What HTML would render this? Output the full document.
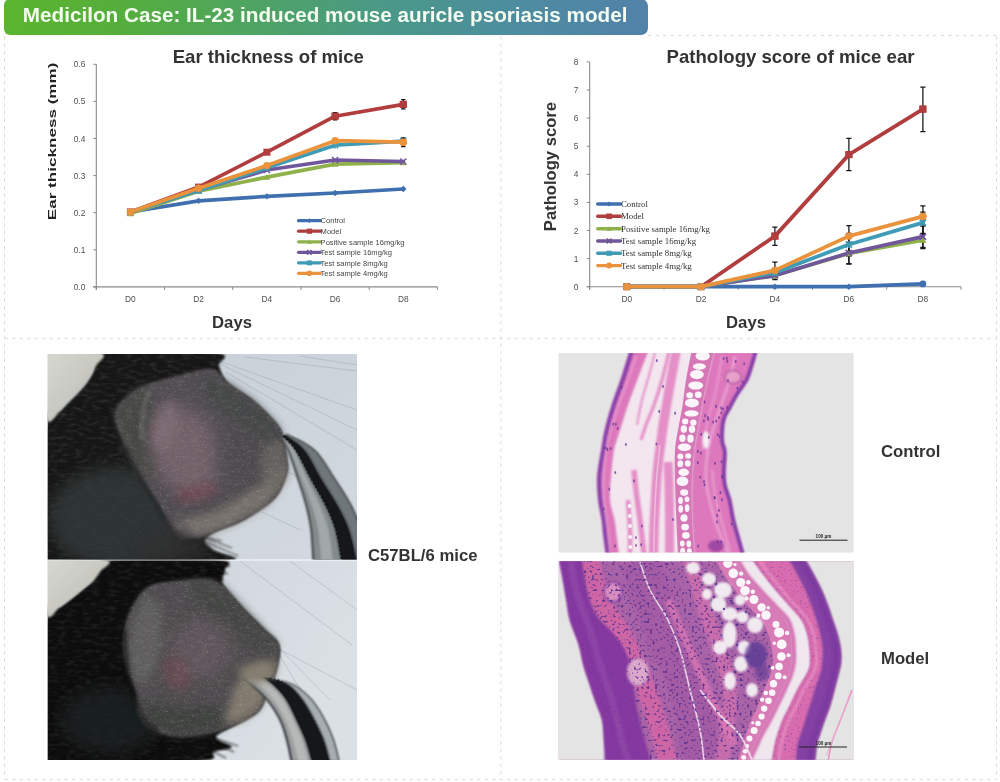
<!DOCTYPE html>
<html lang="en"><head><meta charset="utf-8"><title>Medicilon Case: IL-23 induced mouse auricle psoriasis model</title>
<style>
html,body{margin:0;padding:0;background:#fff;}
body{width:1000px;height:782px;overflow:hidden;position:relative;font-family:"Liberation Sans",Arial,sans-serif;}
svg{position:absolute;left:0;top:0;display:block}
svg text{font-family:"Liberation Sans",Arial,sans-serif}
svg .sf text{font-family:"Liberation Serif","Times New Roman",serif}
.hdr{position:absolute;left:3.5px;top:-1px;width:644.3px;height:35.6px;border-radius:6px 7px 7px 6px;
 background:linear-gradient(90deg,#5bb52e 0%,#55ae3c 18%,#4ea365 40%,#4a9889 60%,#4d8ca0 80%,#5282a9 100%);}
.hdr span{position:absolute;left:19.3px;top:4.4px;font-weight:bold;font-size:20.7px;line-height:24px;color:#f4fbf0;white-space:nowrap;letter-spacing:0}
</style></head><body>
<div class="hdr"><span>Medicilon Case: IL-23 induced mouse auricle psoriasis model</span></div>
<svg width="1000" height="782" viewBox="0 0 1000 782">
<defs>

<clipPath id="cA"><rect x="47.7" y="354" width="309.3" height="205.6"/></clipPath>
<clipPath id="cB"><rect x="47.7" y="560.6" width="309.3" height="199.3"/></clipPath>
<clipPath id="cC"><rect x="558.6" y="353" width="295" height="199.6"/></clipPath>
<clipPath id="cD"><rect x="558.8" y="561.3" width="294.4" height="198.5"/></clipPath>
<filter id="b1" filterUnits="userSpaceOnUse" x="40" y="345" width="830" height="425"><feGaussianBlur stdDeviation="0.8"/></filter>
<filter id="b2" filterUnits="userSpaceOnUse" x="40" y="345" width="830" height="425"><feGaussianBlur stdDeviation="1.6"/></filter>
<filter id="b4" x="-40%" y="-40%" width="180%" height="180%"><feGaussianBlur stdDeviation="4"/></filter>
<filter id="b8" x="-60%" y="-60%" width="220%" height="220%"><feGaussianBlur stdDeviation="8"/></filter>
<filter id="fur" x="0" y="0" width="100%" height="100%" color-interpolation-filters="sRGB"><feTurbulence type="fractalNoise" baseFrequency="0.12 0.3" numOctaves="2" seed="3" result="n"/><feColorMatrix in="n" type="matrix" values="0 0 0 0 0.75  0 0 0 0 0.75  0 0 0 0 0.75  2.4 0 0 0 -1.05"/><feComposite in2="SourceGraphic" operator="in"/></filter>
<filter id="speck" x="0" y="0" width="100%" height="100%" color-interpolation-filters="sRGB"><feTurbulence type="fractalNoise" baseFrequency="0.55" numOctaves="2" seed="7" result="n"/><feColorMatrix in="n" type="matrix" values="0 0 0 0 0.92  0 0 0 0 0.9  0 0 0 0 0.9  3.2 0 0 0 -1.95"/><feComposite in2="SourceGraphic" operator="in"/></filter>
<filter id="cells" x="0" y="0" width="100%" height="100%" color-interpolation-filters="sRGB"><feTurbulence type="fractalNoise" baseFrequency="0.38" numOctaves="1" seed="11" result="n"/><feColorMatrix in="n" type="matrix" values="0 0 0 0 0.36  0 0 0 0 0.2  0 0 0 0 0.56  7 0 0 0 -4.0"/><feComposite in2="SourceGraphic" operator="in"/></filter>
<filter id="cells2" x="0" y="0" width="100%" height="100%" color-interpolation-filters="sRGB"><feTurbulence type="fractalNoise" baseFrequency="0.45" numOctaves="1" seed="23" result="n"/><feColorMatrix in="n" type="matrix" values="0 0 0 0 0.4  0 0 0 0 0.22  0 0 0 0 0.6  6 0 0 0 -3.6"/><feComposite in2="SourceGraphic" operator="in"/></filter>
<linearGradient id="bgA" x1="0" y1="0" x2="1" y2="1"><stop offset="0" stop-color="#c6ced6"/><stop offset="1" stop-color="#d3d9df"/></linearGradient>
<linearGradient id="bgB" x1="0" y1="0" x2="1" y2="0.4"><stop offset="0" stop-color="#c8d0d8"/><stop offset="1" stop-color="#dbe0e5"/></linearGradient>
<linearGradient id="wobj" x1="0" y1="0" x2="1" y2="1"><stop offset="0" stop-color="#dadad4"/><stop offset="0.55" stop-color="#c8c8c1"/><stop offset="1" stop-color="#7c7c78"/></linearGradient>
<radialGradient id="earA" cx="0.42" cy="0.55" r="0.6"><stop offset="0" stop-color="#9a808a"/><stop offset="0.5" stop-color="#8b7a80"/><stop offset="1" stop-color="#6c6c6e"/></radialGradient>
<radialGradient id="earB" cx="0.45" cy="0.6" r="0.65"><stop offset="0" stop-color="#8e7880"/><stop offset="0.5" stop-color="#7c7476"/><stop offset="1" stop-color="#626264"/></radialGradient>
<linearGradient id="furA" x1="0" y1="0" x2="1" y2="0"><stop offset="0" stop-color="#0f1010"/><stop offset="0.45" stop-color="#1b1c1c"/><stop offset="1" stop-color="#2c2d2d"/></linearGradient>

</defs>
<g fill="none" stroke="#dcdcdc" stroke-width="1" stroke-dasharray="3.5 4">
<path d="M4.5 36V779.5M996.5 36V779.5M500.8 36V779"/>
<path d="M648 35.5H996.5M4.5 338.7H996.5M4.5 779.5H996.5"/>
</g>
<g id="chart1"><path d="M96.3 64.3V289.9M93.3 286.9H437.4" stroke="#8a8a8a" stroke-width="1.1" fill="none"/><path d="M93.3 286.9H96.3M93.3 249.8H96.3M93.3 212.7H96.3M93.3 175.6H96.3M93.3 138.5H96.3M93.3 101.4H96.3M93.3 64.3H96.3M96.3 286.9V289.9M164.5 286.9V289.9M232.7 286.9V289.9M301.0 286.9V289.9M369.2 286.9V289.9M437.4 286.9V289.9" stroke="#8a8a8a" stroke-width="1" fill="none"/><g font-size="8.4" fill="#505050" text-anchor="end"><text x="85.3" y="289.9">0.0</text><text x="85.3" y="252.8">0.1</text><text x="85.3" y="215.7">0.2</text><text x="85.3" y="178.6">0.3</text><text x="85.3" y="141.5">0.4</text><text x="85.3" y="104.4">0.5</text><text x="85.3" y="67.3">0.6</text></g><g font-size="8.4" fill="#505050" text-anchor="middle"><text x="130.4" y="302.3">D0</text><text x="198.6" y="302.3">D2</text><text x="266.9" y="302.3">D4</text><text x="335.1" y="302.3">D6</text><text x="403.3" y="302.3">D8</text></g><polyline points="130.4,212.0 198.6,200.8 266.9,196.4 335.1,193.0 403.3,189.0" fill="none" stroke="#3f6fae" stroke-width="3.7" stroke-linejoin="round" stroke-linecap="round"/><path d="M127.2 212.0L130.4 208.8L133.6 212.0L130.4 215.2Z" fill="#3f6fae"/><path d="M195.4 200.8L198.6 197.6L201.8 200.8L198.6 204.0Z" fill="#3f6fae"/><path d="M263.7 196.4L266.9 193.2L270.1 196.4L266.9 199.6Z" fill="#3f6fae"/><path d="M331.9 193.0L335.1 189.8L338.3 193.0L335.1 196.2Z" fill="#3f6fae"/><path d="M400.1 189.0L403.3 185.8L406.5 189.0L403.3 192.2Z" fill="#3f6fae"/><polyline points="130.4,212.0 198.6,187.1 266.9,152.2 335.1,116.2 403.3,104.4" fill="none" stroke="#b13d3f" stroke-width="3.7" stroke-linejoin="round" stroke-linecap="round"/><rect x="126.9" y="208.5" width="7.0" height="7.0" fill="#b13d3f"/><rect x="195.1" y="183.6" width="7.0" height="7.0" fill="#b13d3f"/><rect x="263.4" y="148.7" width="7.0" height="7.0" fill="#b13d3f"/><rect x="331.6" y="112.7" width="7.0" height="7.0" fill="#b13d3f"/><rect x="399.8" y="100.9" width="7.0" height="7.0" fill="#b13d3f"/><polyline points="130.4,213.4 198.6,191.2 266.9,177.1 335.1,164.1 403.3,162.6" fill="none" stroke="#8fb14c" stroke-width="3.7" stroke-linejoin="round" stroke-linecap="round"/><path d="M127.2 216.2L130.4 210.2L133.6 216.2Z" fill="#8fb14c"/><path d="M195.4 193.9L198.6 188.0L201.8 193.9Z" fill="#8fb14c"/><path d="M263.7 179.8L266.9 173.9L270.1 179.8Z" fill="#8fb14c"/><path d="M331.9 166.8L335.1 160.9L338.3 166.8Z" fill="#8fb14c"/><path d="M400.1 165.3L403.3 159.4L406.5 165.3Z" fill="#8fb14c"/><polyline points="130.4,212.0 198.6,190.1 266.9,170.0 335.1,160.0 403.3,161.5" fill="none" stroke="#70569a" stroke-width="3.7" stroke-linejoin="round" stroke-linecap="round"/><path d="M127.4 209.0L133.4 215.0M127.4 215.0L133.4 209.0" stroke="#70569a" stroke-width="1.6" fill="none"/><path d="M195.6 187.1L201.6 193.1M195.6 193.1L201.6 187.1" stroke="#70569a" stroke-width="1.6" fill="none"/><path d="M263.9 167.0L269.9 173.0M263.9 173.0L269.9 167.0" stroke="#70569a" stroke-width="1.6" fill="none"/><path d="M332.1 157.0L338.1 163.0M332.1 163.0L338.1 157.0" stroke="#70569a" stroke-width="1.6" fill="none"/><path d="M400.3 158.5L406.3 164.5M400.3 164.5L406.3 158.5" stroke="#70569a" stroke-width="1.6" fill="none"/><polyline points="130.4,212.0 198.6,190.4 266.9,167.8 335.1,145.2 403.3,141.1" fill="none" stroke="#3f9bb6" stroke-width="3.7" stroke-linejoin="round" stroke-linecap="round"/><path d="M127.4 209.0L133.4 215.0M127.4 215.0L133.4 209.0M130.4 208.5L130.4 215.4" stroke="#3f9bb6" stroke-width="1.5" fill="none"/><path d="M195.6 187.4L201.6 193.4M195.6 193.4L201.6 187.4M198.6 187.0L198.6 193.9" stroke="#3f9bb6" stroke-width="1.5" fill="none"/><path d="M263.9 164.8L269.9 170.8M263.9 170.8L269.9 164.8M266.9 164.4L266.9 171.3" stroke="#3f9bb6" stroke-width="1.5" fill="none"/><path d="M332.1 142.2L338.1 148.2M332.1 148.2L338.1 142.2M335.1 141.7L335.1 148.6" stroke="#3f9bb6" stroke-width="1.5" fill="none"/><path d="M400.3 138.1L406.3 144.1M400.3 144.1L406.3 138.1M403.3 137.6L403.3 144.5" stroke="#3f9bb6" stroke-width="1.5" fill="none"/><polyline points="130.4,212.0 198.6,188.2 266.9,165.6 335.1,140.7 403.3,142.2" fill="none" stroke="#ea933c" stroke-width="3.7" stroke-linejoin="round" stroke-linecap="round"/><circle cx="130.4" cy="212.0" r="3.7" fill="#ea933c"/><circle cx="198.6" cy="188.2" r="3.7" fill="#ea933c"/><circle cx="266.9" cy="165.6" r="3.7" fill="#ea933c"/><circle cx="335.1" cy="140.7" r="3.7" fill="#ea933c"/><circle cx="403.3" cy="142.2" r="3.7" fill="#ea933c"/><path d="M335.1 112.5V119.9M332.9 112.5H337.3M332.9 119.9H337.3" stroke="#161616" stroke-width="1.25" fill="none"/><path d="M403.3 99.5V108.8M401.1 99.5H405.5M401.1 108.8H405.5" stroke="#161616" stroke-width="1.25" fill="none"/><path d="M403.3 137.8V146.7M401.1 137.8H405.5M401.1 146.7H405.5" stroke="#161616" stroke-width="1.25" fill="none"/><rect x="331.6" y="112.7" width="7.0" height="7.0" fill="#b13d3f"/><rect x="399.8" y="100.9" width="7.0" height="7.0" fill="#b13d3f"/><circle cx="403.3" cy="142.2" r="3.7" fill="#ea933c"/><g font-size="7.55" fill="#444"><path d="M298.5 220.7H320.3" stroke="#3f6fae" stroke-width="3.2" stroke-linecap="round"/><path d="M307.0 220.7L309.4 218.3L311.8 220.7L309.4 223.1Z" fill="#3f6fae"/><text x="320.6" y="223.4">Control</text><path d="M298.5 231.2H320.3" stroke="#b13d3f" stroke-width="3.2" stroke-linecap="round"/><rect x="306.8" y="228.6" width="5.2" height="5.2" fill="#b13d3f"/><text x="320.6" y="233.9">Model</text><path d="M298.5 241.8H320.3" stroke="#8fb14c" stroke-width="3.2" stroke-linecap="round"/><path d="M307.0 243.8L309.4 239.4L311.8 243.8Z" fill="#8fb14c"/><text x="320.6" y="244.5">Positive sample 16mg/kg</text><path d="M298.5 252.3H320.3" stroke="#70569a" stroke-width="3.2" stroke-linecap="round"/><path d="M307.1 250.1L311.6 254.6M307.1 254.6L311.6 250.1" stroke="#70569a" stroke-width="1.6" fill="none"/><text x="320.6" y="255.0">Test sample 16mg/kg</text><path d="M298.5 262.8H320.3" stroke="#3f9bb6" stroke-width="3.2" stroke-linecap="round"/><path d="M307.1 260.6L311.6 265.1M307.1 265.1L311.6 260.6M309.4 260.2L309.4 265.4" stroke="#3f9bb6" stroke-width="1.5" fill="none"/><text x="320.6" y="265.5">Test sample 8mg/kg</text><path d="M298.5 273.3H320.3" stroke="#ea933c" stroke-width="3.2" stroke-linecap="round"/><circle cx="309.4" cy="273.3" r="2.8" fill="#ea933c"/><text x="320.6" y="276.0">Test sample 4mg/kg</text></g></g>
<g id="chart2"><path d="M589.7 61.9V289.7M586.7 286.7H961.0" stroke="#8a8a8a" stroke-width="1.1" fill="none"/><path d="M586.7 286.7H589.7M586.7 258.6H589.7M586.7 230.5H589.7M586.7 202.4H589.7M586.7 174.3H589.7M586.7 146.2H589.7M586.7 118.1H589.7M586.7 90.0H589.7M586.7 61.9H589.7M589.7 286.7V289.7M664.0 286.7V289.7M738.2 286.7V289.7M812.5 286.7V289.7M886.7 286.7V289.7M961.0 286.7V289.7" stroke="#8a8a8a" stroke-width="1" fill="none"/><g font-size="8.4" fill="#505050" text-anchor="middle"><text x="576" y="289.7">0</text><text x="576" y="261.6">1</text><text x="576" y="233.5">2</text><text x="576" y="205.4">3</text><text x="576" y="177.3">4</text><text x="576" y="149.2">5</text><text x="576" y="121.1">6</text><text x="576" y="93.0">7</text><text x="576" y="64.9">8</text><text x="626.8" y="302.3">D0</text><text x="701.0" y="302.3">D2</text><text x="774.9" y="302.3">D4</text><text x="848.9" y="302.3">D6</text><text x="922.9" y="302.3">D8</text></g><polyline points="626.8,286.7 701.0,286.7 774.9,286.7 848.9,286.7 922.9,283.9" fill="none" stroke="#3f6fae" stroke-width="3.8" stroke-linejoin="round" stroke-linecap="round"/><path d="M623.6 286.7L626.8 283.5L630.0 286.7L626.8 289.9Z" fill="#3f6fae"/><path d="M697.8 286.7L701.0 283.5L704.2 286.7L701.0 289.9Z" fill="#3f6fae"/><path d="M771.7 286.7L774.9 283.5L778.1 286.7L774.9 289.9Z" fill="#3f6fae"/><path d="M845.7 286.7L848.9 283.5L852.1 286.7L848.9 289.9Z" fill="#3f6fae"/><path d="M919.7 283.9L922.9 280.7L926.1 283.9L922.9 287.1Z" fill="#3f6fae"/><polyline points="626.8,286.7 701.0,286.7 774.9,236.1 848.9,154.6 922.9,109.1" fill="none" stroke="#b13d3f" stroke-width="3.8" stroke-linejoin="round" stroke-linecap="round"/><rect x="623.3" y="283.2" width="7.0" height="7.0" fill="#b13d3f"/><rect x="697.5" y="283.2" width="7.0" height="7.0" fill="#b13d3f"/><rect x="771.4" y="232.6" width="7.0" height="7.0" fill="#b13d3f"/><rect x="845.4" y="151.1" width="7.0" height="7.0" fill="#b13d3f"/><rect x="919.4" y="105.6" width="7.0" height="7.0" fill="#b13d3f"/><polyline points="626.8,286.7 701.0,286.7 774.9,275.5 848.9,253.5 922.9,240.1" fill="none" stroke="#8fb14c" stroke-width="3.8" stroke-linejoin="round" stroke-linecap="round"/><path d="M623.6 289.4L626.8 283.5L630.0 289.4Z" fill="#8fb14c"/><path d="M697.8 289.4L701.0 283.5L704.2 289.4Z" fill="#8fb14c"/><path d="M771.7 278.2L774.9 272.3L778.1 278.2Z" fill="#8fb14c"/><path d="M845.7 256.3L848.9 250.3L852.1 256.3Z" fill="#8fb14c"/><path d="M919.7 242.8L922.9 236.9L926.1 242.8Z" fill="#8fb14c"/><polyline points="626.8,286.7 701.0,286.7 774.9,275.5 848.9,253.0 922.9,236.7" fill="none" stroke="#70569a" stroke-width="3.8" stroke-linejoin="round" stroke-linecap="round"/><path d="M623.8 283.7L629.8 289.7M623.8 289.7L629.8 283.7" stroke="#70569a" stroke-width="1.6" fill="none"/><path d="M698.0 283.7L704.0 289.7M698.0 289.7L704.0 283.7" stroke="#70569a" stroke-width="1.6" fill="none"/><path d="M771.9 272.5L777.9 278.5M771.9 278.5L777.9 272.5" stroke="#70569a" stroke-width="1.6" fill="none"/><path d="M845.9 250.0L851.9 256.0M845.9 256.0L851.9 250.0" stroke="#70569a" stroke-width="1.6" fill="none"/><path d="M919.9 233.7L925.9 239.7M919.9 239.7L925.9 233.7" stroke="#70569a" stroke-width="1.6" fill="none"/><polyline points="626.8,286.7 701.0,286.7 774.9,272.6 848.9,244.5 922.9,222.6" fill="none" stroke="#3f9bb6" stroke-width="3.8" stroke-linejoin="round" stroke-linecap="round"/><path d="M623.8 283.7L629.8 289.7M623.8 289.7L629.8 283.7M626.8 283.2L626.8 290.1" stroke="#3f9bb6" stroke-width="1.5" fill="none"/><path d="M698.0 283.7L704.0 289.7M698.0 289.7L704.0 283.7M701.0 283.2L701.0 290.1" stroke="#3f9bb6" stroke-width="1.5" fill="none"/><path d="M771.9 269.6L777.9 275.6M771.9 275.6L777.9 269.6M774.9 269.2L774.9 276.1" stroke="#3f9bb6" stroke-width="1.5" fill="none"/><path d="M845.9 241.5L851.9 247.5M845.9 247.5L851.9 241.5M848.9 241.1L848.9 248.0" stroke="#3f9bb6" stroke-width="1.5" fill="none"/><path d="M919.9 219.6L925.9 225.6M919.9 225.6L925.9 219.6M922.9 219.2L922.9 226.1" stroke="#3f9bb6" stroke-width="1.5" fill="none"/><polyline points="626.8,286.7 701.0,286.7 774.9,270.4 848.9,236.1 922.9,216.4" fill="none" stroke="#ea933c" stroke-width="3.8" stroke-linejoin="round" stroke-linecap="round"/><circle cx="626.8" cy="286.7" r="3.7" fill="#ea933c"/><circle cx="701.0" cy="286.7" r="3.7" fill="#ea933c"/><circle cx="774.9" cy="270.4" r="3.7" fill="#ea933c"/><circle cx="848.9" cy="236.1" r="3.7" fill="#ea933c"/><circle cx="922.9" cy="216.4" r="3.7" fill="#ea933c"/><circle cx="922.9" cy="283.9" r="3.4" fill="#3f6fae"/><path d="M774.9 262.0V279.7M772.3 262.0H777.5M772.3 279.7H777.5" stroke="#161616" stroke-width="1.25" fill="none"/><path d="M848.9 225.7V264.2M846.3 225.7H851.5M846.3 264.2H851.5" stroke="#161616" stroke-width="1.25" fill="none"/><path d="M922.9 205.8V248.5M920.3 205.8H925.5M920.3 248.5H925.5" stroke="#161616" stroke-width="1.25" fill="none"/><path d="M848.9 233.3V255.8M846.3 233.3H851.5M846.3 255.8H851.5" stroke="#161616" stroke-width="1.25" fill="none"/><path d="M922.9 212.0V233.3M920.3 212.0H925.5M920.3 233.3H925.5" stroke="#161616" stroke-width="1.25" fill="none"/><path d="M922.9 226.0V247.4M920.3 226.0H925.5M920.3 247.4H925.5" stroke="#161616" stroke-width="1.25" fill="none"/><path d="M848.9 242.3V263.7M846.3 242.3H851.5M846.3 263.7H851.5" stroke="#161616" stroke-width="1.25" fill="none"/><path d="M774.9 227.1V245.4M772.3 227.1H777.5M772.3 245.4H777.5" stroke="#161616" stroke-width="1.25" fill="none"/><path d="M848.9 138.3V170.6M846.3 138.3H851.5M846.3 170.6H851.5" stroke="#161616" stroke-width="1.25" fill="none"/><path d="M922.9 87.2V131.6M920.3 87.2H925.5M920.3 131.6H925.5" stroke="#161616" stroke-width="1.25" fill="none"/><rect x="771.4" y="232.6" width="7.0" height="7.0" fill="#b13d3f"/><rect x="845.4" y="151.1" width="7.0" height="7.0" fill="#b13d3f"/><rect x="919.4" y="105.6" width="7.0" height="7.0" fill="#b13d3f"/><path d="M771.7 278.2L774.9 272.3L778.1 278.2Z" fill="#8fb14c"/><path d="M845.7 256.3L848.9 250.3L852.1 256.3Z" fill="#8fb14c"/><path d="M919.7 242.8L922.9 236.9L926.1 242.8Z" fill="#8fb14c"/><path d="M771.9 272.5L777.9 278.5M771.9 278.5L777.9 272.5" stroke="#70569a" stroke-width="1.6" fill="none"/><path d="M845.9 250.0L851.9 256.0M845.9 256.0L851.9 250.0" stroke="#70569a" stroke-width="1.6" fill="none"/><path d="M919.9 233.7L925.9 239.7M919.9 239.7L925.9 233.7" stroke="#70569a" stroke-width="1.6" fill="none"/><path d="M771.9 269.6L777.9 275.6M771.9 275.6L777.9 269.6M774.9 269.2L774.9 276.1" stroke="#3f9bb6" stroke-width="1.5" fill="none"/><path d="M845.9 241.5L851.9 247.5M845.9 247.5L851.9 241.5M848.9 241.1L848.9 248.0" stroke="#3f9bb6" stroke-width="1.5" fill="none"/><path d="M919.9 219.6L925.9 225.6M919.9 225.6L925.9 219.6M922.9 219.2L922.9 226.1" stroke="#3f9bb6" stroke-width="1.5" fill="none"/><circle cx="774.9" cy="270.4" r="3.7" fill="#ea933c"/><circle cx="848.9" cy="236.1" r="3.7" fill="#ea933c"/><circle cx="922.9" cy="216.4" r="3.7" fill="#ea933c"/><g font-size="8.8" fill="#333" class="sf"><path d="M597.7 204.0H620.5" stroke="#3f6fae" stroke-width="3.4" stroke-linecap="round"/><path d="M606.5 204.0L609.1 201.4L611.7 204.0L609.1 206.6Z" fill="#3f6fae"/><text x="621" y="206.9">Control</text><path d="M597.7 216.3H620.5" stroke="#b13d3f" stroke-width="3.4" stroke-linecap="round"/><rect x="606.3" y="213.5" width="5.6" height="5.6" fill="#b13d3f"/><text x="621" y="219.2">Model</text><path d="M597.7 228.7H620.5" stroke="#8fb14c" stroke-width="3.4" stroke-linecap="round"/><path d="M606.5 230.9L609.1 226.1L611.7 230.9Z" fill="#8fb14c"/><text x="621" y="231.6">Positive sample 16mg/kg</text><path d="M597.7 241.0H620.5" stroke="#70569a" stroke-width="3.4" stroke-linecap="round"/><path d="M606.7 238.6L611.5 243.4M606.7 243.4L611.5 238.6" stroke="#70569a" stroke-width="1.6" fill="none"/><text x="621" y="243.9">Test sample 16mg/kg</text><path d="M597.7 253.3H620.5" stroke="#3f9bb6" stroke-width="3.4" stroke-linecap="round"/><path d="M606.7 250.9L611.5 255.7M606.7 255.7L611.5 250.9M609.1 250.5L609.1 256.1" stroke="#3f9bb6" stroke-width="1.5" fill="none"/><text x="621" y="256.2">Test sample 8mg/kg</text><path d="M597.7 265.6H620.5" stroke="#ea933c" stroke-width="3.4" stroke-linecap="round"/><circle cx="609.1" cy="265.6" r="3.0" fill="#ea933c"/><text x="621" y="268.5">Test sample 4mg/kg</text></g></g>
<g font-weight="bold" fill="#333">
<text x="268.3" y="63.4" font-size="18.6" text-anchor="middle">Ear thickness of mice</text>
<text x="790.5" y="63.4" font-size="18.6" text-anchor="middle">Pathology score of mice ear</text>
<text x="232" y="327.6" font-size="16.7" text-anchor="middle">Days</text>
<text x="746" y="327.8" font-size="16.7" text-anchor="middle">Days</text>
<text transform="translate(556 166.6) rotate(-90)" font-size="16.6" text-anchor="middle">Pathology score</text>
<text transform="translate(55.8 141.4) rotate(-90) scale(1.525 1)" font-size="11.2" text-anchor="middle" fill="#222">Ear thickness (mm)</text>
<text x="368" y="561" font-size="16.7">C57BL/6 mice</text>
<text x="881" y="457.3" font-size="16.7">Control</text>
<text x="881" y="664.3" font-size="16.7">Model</text>
</g>
<g clip-path="url(#cA)"><rect x="47" y="353" width="311" height="208" fill="url(#bgA)"/><g stroke="#9aa3ad" stroke-width="0.8" fill="none" opacity="0.55"><path d="M216 360L357 410"/><path d="M220 364L357 430"/><path d="M226 372L357 450"/><path d="M245 357L357 371"/><path d="M300 356L357 365"/><path d="M262 512L300 530M286 470L330 500"/></g><path d="M47.0 421.0C49.2 396.0 56.2 414.3 60.0 411.0C63.8 407.7 66.0 405.2 70.0 401.0C74.0 396.8 80.2 390.8 84.0 386.0C87.8 381.2 90.2 377.5 93.0 372.0C95.8 366.5 80.5 356.2 101.0 353.0C121.5 349.8 196.3 350.8 216.0 353.0C235.7 355.2 217.0 361.0 219.0 366.0C221.0 371.0 222.2 377.2 228.0 383.0C233.8 388.8 245.4 394.2 253.5 401.0C261.6 407.8 271.6 418.0 276.5 424.0C281.4 430.0 281.2 431.0 283.0 437.0C284.8 443.0 286.4 454.0 287.0 460.0C287.6 466.0 288.4 467.0 286.7 473.0C284.9 479.0 282.0 489.2 276.5 496.0C271.0 502.8 260.2 509.3 253.5 514.0C246.8 518.7 242.4 521.0 236.0 524.0C229.6 527.0 220.2 529.2 215.0 532.0C209.8 534.8 205.3 538.0 205.0 541.0C204.7 544.0 209.5 546.7 213.0 550.0C216.5 553.3 253.7 559.2 226.0 561.0C198.3 562.8 76.8 584.3 47.0 561.0C17.2 537.7 44.8 446.0 47.0 421.0Z" fill="#121313" filter="url(#b1)"/><g stroke="#1c1c1c" stroke-width="1.2" fill="none" opacity="0.7" filter="url(#b1)"><path d="M206 538L232 548M206 542L238 556M204 546L230 560M200 536L222 541"/></g><path d="M47.0 421.0C49.2 396.0 56.2 414.3 60.0 411.0C63.8 407.7 66.0 405.2 70.0 401.0C74.0 396.8 80.2 390.8 84.0 386.0C87.8 381.2 90.2 377.5 93.0 372.0C95.8 366.5 80.5 356.2 101.0 353.0C121.5 349.8 196.3 350.8 216.0 353.0C235.7 355.2 217.0 361.0 219.0 366.0C221.0 371.0 222.2 377.2 228.0 383.0C233.8 388.8 245.4 394.2 253.5 401.0C261.6 407.8 271.6 418.0 276.5 424.0C281.4 430.0 281.2 431.0 283.0 437.0C284.8 443.0 286.4 454.0 287.0 460.0C287.6 466.0 288.4 467.0 286.7 473.0C284.9 479.0 282.0 489.2 276.5 496.0C271.0 502.8 260.2 509.3 253.5 514.0C246.8 518.7 242.4 521.0 236.0 524.0C229.6 527.0 220.2 529.2 215.0 532.0C209.8 534.8 205.3 538.0 205.0 541.0C204.7 544.0 209.5 546.7 213.0 550.0C216.5 553.3 253.7 559.2 226.0 561.0C198.3 562.8 76.8 584.3 47.0 561.0C17.2 537.7 44.8 446.0 47.0 421.0Z" fill="#fff" filter="url(#fur)" opacity="0.13"/><ellipse cx="118" cy="518" rx="70" ry="52" fill="#363a3a" opacity="0.8" filter="url(#b8)"/><ellipse cx="175" cy="548" rx="35" ry="16" fill="#303333" opacity="0.8" filter="url(#b8)"/><path d="M151.0 383.0C159.9 379.8 173.8 376.3 184.0 374.0C194.2 371.7 205.2 367.5 212.5 369.0C219.8 370.5 221.2 377.7 228.0 383.0C234.8 388.3 245.4 394.2 253.5 401.0C261.6 407.8 271.6 418.0 276.5 424.0C281.4 430.0 281.2 431.0 283.0 437.0C284.8 443.0 286.4 454.0 287.0 460.0C287.6 466.0 288.4 467.0 286.7 473.0C284.9 479.0 282.0 489.2 276.5 496.0C271.0 502.8 263.8 508.1 253.5 514.0C243.2 519.9 226.1 527.4 215.0 531.6C203.9 535.8 194.2 539.4 187.0 539.0C179.8 538.6 176.3 534.9 171.6 529.0C166.9 523.1 164.3 512.8 158.8 503.5C153.3 494.2 143.9 482.4 138.4 473.0C132.9 463.6 129.5 456.8 125.6 447.0C121.7 437.2 114.2 422.9 115.0 414.0C115.8 405.1 124.7 398.7 130.7 393.5C136.7 388.3 142.1 386.2 151.0 383.0Z" fill="#514e51" filter="url(#b2)"/><path d="M151 383L131 393L115 414L125 447L138 473L158 480L150 440L150 405Z" fill="#444643" opacity="0.85" filter="url(#b4)"/><path d="M150 390Q140 410 142 440" stroke="#73756f" stroke-width="5" fill="none" opacity="0.5" filter="url(#b2)"/><path d="M200 371L228 383L254 401L277 424L284 440L268 446L236 424L206 400Z" fill="#444646" opacity="0.85" filter="url(#b4)"/><ellipse cx="186" cy="452" rx="34" ry="46" transform="rotate(-22 186 452)" fill="#78656d" opacity="0.85" filter="url(#b8)"/><ellipse cx="165" cy="425" rx="12" ry="26" transform="rotate(12 165 425)" fill="#86727a" opacity="0.55" filter="url(#b4)"/><ellipse cx="196" cy="493" rx="22" ry="8" transform="rotate(-12 196 493)" fill="#74434f" opacity="0.6" filter="url(#b4)"/><ellipse cx="240" cy="455" rx="26" ry="30" fill="#4c4a4c" opacity="0.6" filter="url(#b8)"/><path d="M176 522L215 512L262 484L285 464L285 478L268 504L236 523L200 536Z" fill="#807a72" opacity="0.8" filter="url(#b4)"/><path d="M266 442L285 442L287 474L272 492L260 470Z" fill="#6c6a65" opacity="0.7" filter="url(#b4)"/><path d="M151.0 383.0C159.9 379.8 173.8 376.3 184.0 374.0C194.2 371.7 205.2 367.5 212.5 369.0C219.8 370.5 221.2 377.7 228.0 383.0C234.8 388.3 245.4 394.2 253.5 401.0C261.6 407.8 271.6 418.0 276.5 424.0C281.4 430.0 281.2 431.0 283.0 437.0C284.8 443.0 286.4 454.0 287.0 460.0C287.6 466.0 288.4 467.0 286.7 473.0C284.9 479.0 282.0 489.2 276.5 496.0C271.0 502.8 263.8 508.1 253.5 514.0C243.2 519.9 226.1 527.4 215.0 531.6C203.9 535.8 194.2 539.4 187.0 539.0C179.8 538.6 176.3 534.9 171.6 529.0C166.9 523.1 164.3 512.8 158.8 503.5C153.3 494.2 143.9 482.4 138.4 473.0C132.9 463.6 129.5 456.8 125.6 447.0C121.7 437.2 114.2 422.9 115.0 414.0C115.8 405.1 124.7 398.7 130.7 393.5C136.7 388.3 142.1 386.2 151.0 383.0Z" fill="#fff" filter="url(#fur)" opacity="0.11"/><path d="M151.0 383.0C159.9 379.8 173.8 376.3 184.0 374.0C194.2 371.7 205.2 367.5 212.5 369.0C219.8 370.5 221.2 377.7 228.0 383.0C234.8 388.3 245.4 394.2 253.5 401.0C261.6 407.8 271.6 418.0 276.5 424.0C281.4 430.0 281.2 431.0 283.0 437.0C284.8 443.0 286.4 454.0 287.0 460.0C287.6 466.0 288.4 467.0 286.7 473.0C284.9 479.0 282.0 489.2 276.5 496.0C271.0 502.8 263.8 508.1 253.5 514.0C243.2 519.9 226.1 527.4 215.0 531.6C203.9 535.8 194.2 539.4 187.0 539.0C179.8 538.6 176.3 534.9 171.6 529.0C166.9 523.1 164.3 512.8 158.8 503.5C153.3 494.2 143.9 482.4 138.4 473.0C132.9 463.6 129.5 456.8 125.6 447.0C121.7 437.2 114.2 422.9 115.0 414.0C115.8 405.1 124.7 398.7 130.7 393.5C136.7 388.3 142.1 386.2 151.0 383.0Z" fill="#fff" filter="url(#speck)" opacity="0.28"/><path d="M126 447Q142 486 172 528Q180 538 196 539" stroke="#202222" stroke-width="4" fill="none" opacity="0.5" filter="url(#b2)"/><path d="M281.0 437.0C282.1 439.2 284.7 442.8 287.5 450.0C290.3 457.2 294.6 470.7 297.6 480.0C300.6 489.3 303.5 497.7 305.6 506.0C307.7 514.3 309.2 520.8 310.4 530.0C311.5 539.2 312.1 555.8 312.5 561.0L372.0 561.0C370.3 555.8 365.3 539.2 362.0 530.0C358.7 520.8 356.3 514.3 352.0 506.0C347.7 497.7 342.2 489.3 336.0 480.0C329.8 470.7 323.2 457.7 315.0 450.0C306.8 442.3 291.7 436.7 287.0 434.0Z" fill="#34383a" filter="url(#b1)"/><path d="M282.6 437.0C283.7 439.2 286.3 442.8 289.1 450.0C291.9 457.2 296.2 470.7 299.2 480.0C302.2 489.3 305.1 497.7 307.2 506.0C309.3 514.3 310.9 520.8 312.0 530.0C313.1 539.2 313.8 555.8 314.1 561.0L340.8 561.0C339.8 555.8 337.4 539.2 334.8 530.0C332.2 520.8 329.2 514.3 325.2 506.0C321.2 497.7 315.9 489.3 310.8 480.0C305.7 470.7 299.6 457.3 294.8 450.0C290.0 442.7 284.0 438.3 281.8 436.0Z" fill="#838a8c" filter="url(#b1)"/><path d="M281.6 436.5C283.0 438.8 286.7 442.8 290.1 450.0C293.4 457.2 298.3 470.7 301.9 480.0C305.6 489.3 309.1 497.7 311.8 506.0C314.5 514.3 316.5 520.8 318.1 530.0C319.7 539.2 320.8 555.8 321.4 561.0L333.1 561.0C332.3 555.8 330.5 539.2 328.3 530.0C326.2 520.8 323.6 514.3 320.2 506.0C316.7 497.7 312.1 489.3 307.7 480.0C303.2 470.7 297.7 457.2 293.4 450.0C289.2 442.8 284.2 438.8 282.4 436.5Z" fill="#a2a8a9" filter="url(#b1)"/><path d="M283.0 436.0C285.2 438.3 291.2 442.7 296.0 450.0C300.8 457.3 306.9 470.7 312.0 480.0C317.1 489.3 322.4 497.7 326.4 506.0C330.4 514.3 333.4 520.8 336.0 530.0C338.6 539.2 341.0 555.8 342.0 561.0L356.5 561.0C355.2 555.8 351.9 539.2 348.8 530.0C345.7 520.8 342.1 514.3 337.6 506.0C333.1 497.7 327.2 489.3 321.6 480.0C316.0 470.7 310.1 457.5 304.0 450.0C297.9 442.5 288.2 437.5 285.0 435.0Z" fill="#15171a"/><path d="M283.3 436.0C285.5 438.3 291.5 442.7 296.3 450.0C301.1 457.3 307.2 470.7 312.3 480.0C317.4 489.3 322.7 497.7 326.7 506.0C330.7 514.3 333.7 520.8 336.3 530.0C338.9 539.2 341.3 555.8 342.3 561.0" fill="none" stroke="#15171a" stroke-width="2.2" stroke-dasharray="2 2"/><path d="M286.2 435.0C289.4 437.5 299.1 442.5 305.2 450.0C311.3 457.5 317.2 470.7 322.8 480.0C328.4 489.3 334.3 497.7 338.8 506.0C343.3 514.3 346.9 520.8 350.0 530.0C353.1 539.2 356.4 555.8 357.7 561.0L371.0 561.0C369.3 555.8 364.3 539.2 361.0 530.0C357.7 520.8 355.3 514.3 351.0 506.0C346.7 497.7 341.2 489.3 335.0 480.0C328.8 470.7 322.2 457.7 314.0 450.0C305.8 442.3 290.7 436.7 286.0 434.0Z" fill="#6f777a" filter="url(#b1)"/><path d="M47.0 353.0C56.0 341.8 92.8 350.8 101.0 353.0C109.2 355.2 98.2 361.5 96.0 366.0C93.8 370.5 91.0 375.7 88.0 380.0C85.0 384.3 81.7 388.2 78.0 392.0C74.3 395.8 71.2 398.3 66.0 403.0C60.8 407.7 50.2 428.3 47.0 420.0C43.8 411.7 38.0 364.2 47.0 353.0Z" fill="url(#wobj)" filter="url(#b1)"/></g>
<g clip-path="url(#cB)"><rect x="47" y="560" width="311" height="201" fill="url(#bgB)"/><g stroke="#98a1ab" stroke-width="0.8" fill="none" opacity="0.5"><path d="M240 561L352 645"/><path d="M290 561L357 610"/><path d="M262 640L357 690"/><path d="M232 600L330 700"/><path d="M280 656Q300 690 320 720"/></g><path d="M47.0 616.0C49.2 590.3 55.8 610.0 60.0 607.0C64.2 604.0 68.0 601.2 72.0 598.0C76.0 594.8 80.5 591.0 84.0 588.0C87.5 585.0 89.2 584.7 93.0 580.0C96.8 575.3 86.0 563.3 107.0 560.0C128.0 556.7 199.3 558.3 219.0 560.0C238.7 561.7 224.3 566.0 225.0 570.0C225.7 574.0 220.0 577.7 223.0 584.0C226.0 590.3 236.2 600.5 243.0 608.0C249.8 615.5 258.0 622.8 264.0 629.0C270.0 635.2 276.8 638.5 279.0 645.0C281.2 651.5 278.8 660.2 277.0 668.0C275.2 675.8 271.0 684.8 268.0 692.0C265.0 699.2 264.0 705.7 259.0 711.0C254.0 716.3 245.2 719.7 238.0 724.0C230.8 728.3 217.0 733.2 216.0 737.0C215.0 740.8 232.3 744.5 232.0 747.0C231.7 749.5 219.7 749.7 214.0 752.0C208.3 754.3 225.8 759.5 198.0 761.0C170.2 762.5 72.2 785.2 47.0 761.0C21.8 736.8 44.8 641.7 47.0 616.0Z" fill="#101111" filter="url(#b1)"/><path d="M47.0 616.0C49.2 590.3 55.8 610.0 60.0 607.0C64.2 604.0 68.0 601.2 72.0 598.0C76.0 594.8 80.5 591.0 84.0 588.0C87.5 585.0 89.2 584.7 93.0 580.0C96.8 575.3 86.0 563.3 107.0 560.0C128.0 556.7 199.3 558.3 219.0 560.0C238.7 561.7 224.3 566.0 225.0 570.0C225.7 574.0 220.0 577.7 223.0 584.0C226.0 590.3 236.2 600.5 243.0 608.0C249.8 615.5 258.0 622.8 264.0 629.0C270.0 635.2 276.8 638.5 279.0 645.0C281.2 651.5 278.8 660.2 277.0 668.0C275.2 675.8 271.0 684.8 268.0 692.0C265.0 699.2 264.0 705.7 259.0 711.0C254.0 716.3 245.2 719.7 238.0 724.0C230.8 728.3 217.0 733.2 216.0 737.0C215.0 740.8 232.3 744.5 232.0 747.0C231.7 749.5 219.7 749.7 214.0 752.0C208.3 754.3 225.8 759.5 198.0 761.0C170.2 762.5 72.2 785.2 47.0 761.0C21.8 736.8 44.8 641.7 47.0 616.0Z" fill="#fff" filter="url(#fur)" opacity="0.10"/><g stroke="#151515" stroke-width="1.3" fill="none" opacity="0.8" filter="url(#b1)"><path d="M210 563L230 566M208 568L228 574M206 574L224 580M214 738L238 746M210 742L234 752M206 748L226 758"/></g><ellipse cx="110" cy="720" rx="50" ry="35" fill="#1e2020" opacity="0.8" filter="url(#b8)"/><path d="M146.0 588.0C154.1 582.1 166.5 582.0 176.7 580.5C186.9 579.0 199.7 578.1 207.4 579.0C215.1 579.9 216.8 580.7 222.8 585.6C228.8 590.5 236.4 601.4 243.2 608.6C250.0 615.8 257.7 623.0 263.7 629.0C269.7 635.0 276.9 637.6 279.0 644.4C281.1 651.2 278.7 661.9 276.5 670.0C274.3 678.1 269.0 686.2 266.0 693.0C263.0 699.8 263.3 705.9 258.6 711.0C253.9 716.1 246.5 719.9 238.0 723.7C229.5 727.5 217.6 731.9 207.4 734.0C197.2 736.1 186.1 737.4 176.7 736.5C167.3 735.6 157.4 732.6 151.0 728.8C144.6 725.0 140.9 719.5 138.4 713.5C135.9 707.5 137.5 699.8 135.8 693.0C134.1 686.2 130.1 680.6 128.0 672.5C125.9 664.4 123.0 653.8 123.0 644.4C123.0 635.0 124.2 625.4 128.0 616.0C131.8 606.6 137.9 593.9 146.0 588.0Z" fill="#4d4b4e" filter="url(#b2)"/><path d="M190 580L223 586L264 629L278 645L262 652L228 626L196 600Z" fill="#424443" opacity="0.85" filter="url(#b4)"/><ellipse cx="146" cy="640" rx="16" ry="44" transform="rotate(6 146 640)" fill="#686666" opacity="0.7" filter="url(#b4)"/><ellipse cx="200" cy="650" rx="30" ry="30" fill="#6c5c64" opacity="0.6" filter="url(#b8)"/><ellipse cx="176" cy="674" rx="13" ry="18" transform="rotate(-25 176 674)" fill="#784a55" opacity="0.5" filter="url(#b4)"/><path d="M137 700L175 708L222 706L222 730L176 736L150 728Z" fill="#3e3f3d" opacity="0.9" filter="url(#b4)"/><path d="M236 684L262 662L277 660L270 690L258 710L240 722L224 722Z" fill="#867f70" opacity="0.9" filter="url(#b4)"/><path d="M146.0 588.0C154.1 582.1 166.5 582.0 176.7 580.5C186.9 579.0 199.7 578.1 207.4 579.0C215.1 579.9 216.8 580.7 222.8 585.6C228.8 590.5 236.4 601.4 243.2 608.6C250.0 615.8 257.7 623.0 263.7 629.0C269.7 635.0 276.9 637.6 279.0 644.4C281.1 651.2 278.7 661.9 276.5 670.0C274.3 678.1 269.0 686.2 266.0 693.0C263.0 699.8 263.3 705.9 258.6 711.0C253.9 716.1 246.5 719.9 238.0 723.7C229.5 727.5 217.6 731.9 207.4 734.0C197.2 736.1 186.1 737.4 176.7 736.5C167.3 735.6 157.4 732.6 151.0 728.8C144.6 725.0 140.9 719.5 138.4 713.5C135.9 707.5 137.5 699.8 135.8 693.0C134.1 686.2 130.1 680.6 128.0 672.5C125.9 664.4 123.0 653.8 123.0 644.4C123.0 635.0 124.2 625.4 128.0 616.0C131.8 606.6 137.9 593.9 146.0 588.0Z" fill="#fff" filter="url(#fur)" opacity="0.10"/><path d="M146.0 588.0C154.1 582.1 166.5 582.0 176.7 580.5C186.9 579.0 199.7 578.1 207.4 579.0C215.1 579.9 216.8 580.7 222.8 585.6C228.8 590.5 236.4 601.4 243.2 608.6C250.0 615.8 257.7 623.0 263.7 629.0C269.7 635.0 276.9 637.6 279.0 644.4C281.1 651.2 278.7 661.9 276.5 670.0C274.3 678.1 269.0 686.2 266.0 693.0C263.0 699.8 263.3 705.9 258.6 711.0C253.9 716.1 246.5 719.9 238.0 723.7C229.5 727.5 217.6 731.9 207.4 734.0C197.2 736.1 186.1 737.4 176.7 736.5C167.3 735.6 157.4 732.6 151.0 728.8C144.6 725.0 140.9 719.5 138.4 713.5C135.9 707.5 137.5 699.8 135.8 693.0C134.1 686.2 130.1 680.6 128.0 672.5C125.9 664.4 123.0 653.8 123.0 644.4C123.0 635.0 124.2 625.4 128.0 616.0C131.8 606.6 137.9 593.9 146.0 588.0Z" fill="#fff" filter="url(#speck)" opacity="0.3"/><path d="M125 630Q124 670 136 700Q140 722 158 731" stroke="#101010" stroke-width="5" fill="none" opacity="0.5" filter="url(#b2)"/><path d="M243.0 679.0C244.6 680.2 248.4 682.5 252.3 686.0C256.2 689.5 261.9 694.3 266.4 700.0C270.9 705.7 275.9 713.3 279.2 720.0C282.5 726.7 284.1 733.2 286.0 740.0C287.9 746.8 289.8 757.5 290.5 761.0L339.5 761.0C338.6 757.5 336.4 746.8 334.0 740.0C331.6 733.2 328.8 726.7 325.2 720.0C321.6 713.3 317.5 705.8 312.4 700.0C307.3 694.2 301.1 688.5 294.5 685.0C287.9 681.5 276.6 680.0 273.0 679.0Z" fill="#2a2e32" filter="url(#b1)"/><path d="M245.0 679.0C246.6 680.2 250.4 682.5 254.3 686.0C258.2 689.5 263.9 694.3 268.4 700.0C272.9 705.7 277.9 713.3 281.2 720.0C284.5 726.7 286.1 733.2 288.0 740.0C289.9 746.8 291.8 757.5 292.5 761.0L311.2 761.0C310.1 757.5 307.4 746.8 304.8 740.0C302.2 733.2 299.0 726.7 295.8 720.0C292.6 713.3 289.6 705.8 285.8 700.0C282.0 694.2 277.0 688.8 272.8 685.0C268.6 681.2 262.8 678.3 260.8 677.0Z" fill="#9b9f9e" filter="url(#b1)"/><path d="M249.7 678.0C251.4 679.2 255.9 681.8 259.9 685.5C263.9 689.2 269.4 694.2 273.6 700.0C277.9 705.8 282.2 713.3 285.4 720.0C288.7 726.7 290.9 733.2 293.0 740.0C295.1 746.8 297.3 757.5 298.2 761.0L308.0 761.0C307.0 757.5 304.4 746.8 302.0 740.0C299.6 733.2 296.6 726.7 293.4 720.0C290.3 713.3 286.8 705.8 282.9 700.0C278.9 694.2 273.8 689.2 269.7 685.5C265.5 681.8 260.1 679.2 258.2 678.0Z" fill="#b6b9b7" filter="url(#b1)"/><path d="M262.0 677.0C264.0 678.3 269.8 681.2 274.0 685.0C278.2 688.8 283.2 694.2 287.0 700.0C290.8 705.8 293.8 713.3 297.0 720.0C300.2 726.7 303.4 733.2 306.0 740.0C308.6 746.8 311.3 757.5 312.4 761.0L329.0 761.0C328.0 757.5 325.6 746.8 323.0 740.0C320.4 733.2 317.2 726.7 313.7 720.0C310.2 713.3 306.3 705.8 302.0 700.0C297.7 694.2 293.3 688.7 288.0 685.0C282.7 681.3 273.0 679.2 270.0 678.0Z" fill="#15171a"/><path d="M269.7 678.0C272.7 679.2 282.4 681.3 287.7 685.0C293.0 688.7 297.4 694.2 301.7 700.0C306.0 705.8 309.9 713.3 313.4 720.0C316.9 726.7 320.1 733.2 322.7 740.0C325.2 746.8 327.7 757.5 328.7 761.0" fill="none" stroke="#15171a" stroke-width="2.2" stroke-dasharray="2 2"/><path d="M271.4 678.0C274.4 679.2 284.1 681.3 289.4 685.0C294.7 688.7 299.1 694.2 303.4 700.0C307.7 705.8 311.6 713.3 315.1 720.0C318.6 726.7 321.8 733.2 324.4 740.0C326.9 746.8 329.4 757.5 330.4 761.0L338.7 761.0C337.8 757.5 335.6 746.8 333.2 740.0C330.8 733.2 328.0 726.7 324.4 720.0C320.8 713.3 316.7 705.8 311.6 700.0C306.5 694.2 300.3 688.5 293.7 685.0C287.1 681.5 275.8 680.0 272.2 679.0Z" fill="#a7aeb1" filter="url(#b1)"/><path d="M238 668L262 662L274 672L260 684L244 682Z" fill="#857e70" filter="url(#b4)"/><path d="M47.0 560.0C57.0 550.8 98.2 558.0 107.0 560.0C115.8 562.0 102.3 568.5 100.0 572.0C97.7 575.5 96.0 578.0 93.0 581.0C90.0 584.0 85.5 587.2 82.0 590.0C78.5 592.8 75.7 595.2 72.0 598.0C68.3 600.8 64.2 604.2 60.0 607.0C55.8 609.8 49.2 622.8 47.0 615.0C44.8 607.2 37.0 569.2 47.0 560.0Z" fill="url(#wobj)" filter="url(#b1)"/></g>
<g clip-path="url(#cC)"><rect x="558" y="352" width="297" height="202" fill="#e4e4e4"/><path d="M648.0 352.0C646.3 356.3 641.3 369.2 638.0 378.0C634.7 386.8 631.0 396.3 628.0 405.0C625.0 413.7 622.3 422.5 620.0 430.0C617.7 437.5 615.5 442.3 614.0 450.0C612.5 457.7 611.7 467.7 611.0 476.0C610.3 484.3 609.4 492.7 610.0 500.0C610.6 507.3 613.4 514.2 614.5 520.0C615.6 525.8 615.8 529.3 616.5 535.0C617.2 540.7 618.6 550.8 619.0 554.0L678.0 554.0C677.8 550.8 677.3 542.3 677.0 535.0C676.7 527.7 676.3 519.2 676.0 510.0C675.7 500.8 675.2 490.0 675.0 480.0C674.8 470.0 674.5 458.3 675.0 450.0C675.5 441.7 676.7 437.5 678.0 430.0C679.3 422.5 681.3 413.3 682.6 405.0C683.9 396.7 684.5 388.8 686.0 380.0C687.5 371.2 690.5 356.7 691.4 352.0Z" fill="#f3e6ef"/><path d="M669.0 352.0C667.8 356.7 664.5 371.2 662.0 380.0C659.5 388.8 656.7 397.5 654.0 405.0C651.3 412.5 648.2 419.2 646.0 425.0C643.8 430.8 641.8 437.5 641.0 440.0" fill="none" stroke="#e388c4" stroke-width="3.2" opacity="0.92" filter="url(#b1)"/><path d="M676.0 352.0C675.0 357.5 672.0 373.7 670.0 385.0C668.0 396.3 665.5 410.5 664.0 420.0C662.5 429.5 662.1 433.7 661.0 442.0C659.9 450.3 658.4 460.3 657.5 470.0C656.6 479.7 656.1 490.0 655.5 500.0C654.9 510.0 654.3 521.0 654.0 530.0C653.7 539.0 653.6 550.0 653.5 554.0" fill="none" stroke="#e388c4" stroke-width="9.5" opacity="0.92" filter="url(#b1)"/><path d="M668.0 462.0C668.2 466.0 668.8 476.3 669.0 486.0C669.2 495.7 669.4 508.7 669.5 520.0C669.6 531.3 669.5 548.3 669.5 554.0" fill="none" stroke="#e388c4" stroke-width="9" opacity="0.92" filter="url(#b1)"/><path d="M634.0 470.0C634.3 473.3 635.0 481.7 636.0 490.0C637.0 498.3 638.7 509.3 640.0 520.0C641.3 530.7 643.3 548.3 644.0 554.0" fill="none" stroke="#e388c4" stroke-width="5.5" opacity="0.92" filter="url(#b1)"/><path d="M655.0 352.0C654.2 355.3 652.2 364.0 650.0 372.0C647.8 380.0 644.2 391.2 642.0 400.0C639.8 408.8 637.8 420.8 637.0 425.0" fill="none" stroke="#e388c4" stroke-width="2" opacity="0.92" filter="url(#b1)"/><path d="M628.0 500.0C628.3 505.0 629.7 521.0 630.0 530.0C630.3 539.0 630.0 550.0 630.0 554.0" fill="none" stroke="#e388c4" stroke-width="4.5" opacity="0.92" filter="url(#b1)"/><path d="M660.0 445.0C659.4 450.8 657.4 467.5 656.5 480.0C655.6 492.5 654.9 507.7 654.5 520.0C654.1 532.3 654.1 548.3 654.0 554.0" fill="none" stroke="#f1c4e2" stroke-width="1.6" opacity="0.8"/><circle cx="629.6" cy="506" r="1.9" fill="#fbf5fa"/><circle cx="629.8" cy="516" r="1.9" fill="#fbf5fa"/><circle cx="630.0" cy="526" r="1.9" fill="#fbf5fa"/><circle cx="630.2" cy="537" r="1.9" fill="#fbf5fa"/><circle cx="630.4" cy="547" r="1.9" fill="#fbf5fa"/><path d="M629.5 352.0C628.2 356.3 624.4 369.2 621.5 378.0C618.6 386.8 614.8 396.3 612.0 405.0C609.2 413.7 606.8 422.5 605.0 430.0C603.2 437.5 602.8 442.3 601.5 450.0C600.2 457.7 598.0 467.7 597.5 476.0C597.0 484.3 597.8 492.7 598.5 500.0C599.2 507.3 601.2 514.2 602.0 520.0C602.8 525.8 602.8 529.3 603.5 535.0C604.2 540.7 605.6 550.8 606.0 554.0L619.0 554.0C618.6 550.8 617.2 540.7 616.5 535.0C615.8 529.3 615.6 525.8 614.5 520.0C613.4 514.2 610.6 507.3 610.0 500.0C609.4 492.7 610.3 484.3 611.0 476.0C611.7 467.7 612.5 457.7 614.0 450.0C615.5 442.3 617.7 437.5 620.0 430.0C622.3 422.5 625.0 413.7 628.0 405.0C631.0 396.3 634.7 386.8 638.0 378.0C641.3 369.2 646.3 356.3 648.0 352.0Z" fill="#de78bc" filter="url(#b1)"/><path d="M631.4 352.0C630.1 356.3 626.3 369.2 623.4 378.0C620.5 386.8 616.6 396.3 613.9 405.0C611.1 413.7 608.6 422.5 606.9 430.0C605.1 437.5 604.6 442.3 603.4 450.0C602.1 457.7 599.9 467.7 599.4 476.0C598.9 484.3 599.6 492.7 600.4 500.0C601.1 507.3 603.1 514.2 603.9 520.0C604.7 525.8 604.7 529.3 605.4 535.0C606.1 540.7 607.5 550.8 607.9 554.0" fill="none" stroke="#7a3aa6" stroke-width="4.0" opacity="0.9" filter="url(#b1)"/><path d="M714.0 352.0C712.8 356.7 709.0 371.2 707.0 380.0C705.0 388.8 703.6 396.7 702.0 405.0C700.4 413.3 698.8 422.5 697.5 430.0C696.2 437.5 695.2 441.7 694.2 450.0C693.2 458.3 692.2 470.0 691.8 480.0C691.4 490.0 691.6 500.8 691.8 510.0C692.0 519.2 692.5 527.7 693.0 535.0C693.5 542.3 694.2 550.8 694.5 554.0L744.2 554.0C743.5 551.3 741.4 543.7 739.8 538.0C738.2 532.3 736.3 526.3 734.8 520.0C733.3 513.7 732.4 505.7 731.0 500.0C729.6 494.3 727.5 490.7 726.5 486.0C725.5 481.3 725.3 477.7 725.3 472.0C725.3 466.3 726.6 457.3 726.3 452.0C726.0 446.7 723.7 445.3 723.5 440.0C723.3 434.7 723.8 425.3 725.0 420.0C726.2 414.7 728.8 412.2 731.0 408.0C733.2 403.8 735.2 399.7 738.0 395.0C740.8 390.3 745.5 384.8 748.0 380.0C750.5 375.2 751.5 370.7 753.0 366.0C754.5 361.3 756.3 354.3 757.0 352.0Z" fill="#de78bc" filter="url(#b1)"/><path d="M755.4 352.0C754.7 354.3 752.9 361.3 751.4 366.0C749.9 370.7 748.9 375.2 746.4 380.0C743.9 384.8 739.2 390.3 736.4 395.0C733.6 399.7 731.6 403.8 729.4 408.0C727.2 412.2 724.6 414.7 723.4 420.0C722.1 425.3 721.7 434.7 721.9 440.0C722.1 445.3 724.4 446.7 724.7 452.0C725.0 457.3 723.7 466.3 723.7 472.0C723.7 477.7 723.9 481.3 724.9 486.0C725.9 490.7 728.0 494.3 729.4 500.0C730.8 505.7 731.7 513.7 733.2 520.0C734.7 526.3 736.6 532.3 738.2 538.0C739.8 543.7 741.9 551.3 742.6 554.0" fill="none" stroke="#7a3aa6" stroke-width="3.4" opacity="1" filter="url(#b1)"/><path d="M735.0 356.0C733.8 360.8 731.2 374.3 728.0 385.0C724.8 395.7 719.3 409.2 716.0 420.0C712.7 430.8 709.7 440.0 708.0 450.0C706.3 460.0 705.3 470.0 706.0 480.0C706.7 490.0 709.3 500.0 712.0 510.0C714.7 520.0 719.3 532.8 722.0 540.0C724.7 547.2 727.0 550.8 728.0 553.0" fill="none" stroke="#f0bce0" stroke-width="3" opacity="0.55" filter="url(#b1)"/><path d="M722.0 356.0C721.0 361.7 718.3 379.3 716.0 390.0C713.7 400.7 710.3 410.0 708.0 420.0C705.7 430.0 703.0 445.0 702.0 450.0" fill="none" stroke="#f0bce0" stroke-width="2" opacity="0.5" filter="url(#b1)"/><path d="M712.0 470.0C712.7 475.0 714.0 490.0 716.0 500.0C718.0 510.0 721.7 521.2 724.0 530.0C726.3 538.8 729.0 549.2 730.0 553.0" fill="none" stroke="#f0bce0" stroke-width="2.5" opacity="0.5" filter="url(#b1)"/><path d="M636.0 356.0C634.3 360.8 629.3 375.7 626.0 385.0C622.7 394.3 619.0 402.8 616.0 412.0C613.0 421.2 610.0 430.3 608.0 440.0C606.0 449.7 604.7 460.0 604.0 470.0C603.3 480.0 603.3 490.0 604.0 500.0C604.7 510.0 607.0 521.2 608.0 530.0C609.0 538.8 609.7 549.2 610.0 553.0" fill="none" stroke="#f0bce0" stroke-width="2.2" opacity="0.5" filter="url(#b1)"/><ellipse cx="733" cy="377" rx="8" ry="6.5" fill="#e9a0c8" stroke="#b05aa8" stroke-width="1.5" filter="url(#b1)"/><ellipse cx="716" cy="546" rx="8" ry="6" fill="#a04aa4" filter="url(#b1)"/><ellipse cx="706" cy="440" rx="3.5" ry="9" fill="#f6eef4" filter="url(#b1)"/><path d="M691.4 352.0C690.5 356.7 687.5 371.2 686.0 380.0C684.5 388.8 683.9 396.7 682.6 405.0C681.3 413.3 679.3 422.5 678.0 430.0C676.7 437.5 675.5 441.7 675.0 450.0C674.5 458.3 674.8 470.0 675.0 480.0C675.2 490.0 675.7 500.8 676.0 510.0C676.3 519.2 676.7 527.7 677.0 535.0C677.3 542.3 677.8 550.8 678.0 554.0L694.5 554.0C694.2 550.8 693.5 542.3 693.0 535.0C692.5 527.7 692.0 519.2 691.8 510.0C691.6 500.8 691.4 490.0 691.8 480.0C692.2 470.0 693.2 458.3 694.2 450.0C695.2 441.7 696.2 437.5 697.5 430.0C698.8 422.5 700.4 413.3 702.0 405.0C703.6 396.7 705.0 388.8 707.0 380.0C709.0 371.2 712.8 356.7 714.0 352.0Z" fill="#d678b8"/><ellipse cx="702.7" cy="356.0" rx="7.2" ry="4.5" fill="#fbf5fa"/><ellipse cx="699.4" cy="366.5" rx="6.5" ry="3.2" fill="#fbf5fa"/><ellipse cx="696.9" cy="374.6" rx="6.9" ry="4.6" fill="#fbf5fa"/><ellipse cx="695.7" cy="385.5" rx="7.4" ry="4.1" fill="#fbf5fa"/><ellipse cx="689.7" cy="395.3" rx="3.4" ry="3.0" fill="#fbf5fa"/><ellipse cx="698.2" cy="394.7" rx="3.4" ry="3.2" fill="#fbf5fa"/><ellipse cx="691.9" cy="402.9" rx="7.0" ry="4.5" fill="#fbf5fa"/><ellipse cx="691.5" cy="413.4" rx="7.1" ry="3.2" fill="#fbf5fa"/><ellipse cx="685.2" cy="421.5" rx="3.2" ry="3.0" fill="#fbf5fa"/><ellipse cx="693.4" cy="422.6" rx="3.2" ry="3.2" fill="#fbf5fa"/><ellipse cx="683.8" cy="429.1" rx="3.2" ry="3.8" fill="#fbf5fa"/><ellipse cx="692.0" cy="429.2" rx="3.2" ry="3.8" fill="#fbf5fa"/><ellipse cx="682.4" cy="438.2" rx="3.2" ry="3.7" fill="#fbf5fa"/><ellipse cx="690.5" cy="438.7" rx="3.2" ry="4.1" fill="#fbf5fa"/><ellipse cx="684.4" cy="447.3" rx="6.6" ry="3.8" fill="#fbf5fa"/><ellipse cx="680.4" cy="456.4" rx="3.0" ry="2.9" fill="#fbf5fa"/><ellipse cx="688.2" cy="456.0" rx="3.0" ry="2.8" fill="#fbf5fa"/><ellipse cx="680.3" cy="463.8" rx="2.9" ry="3.5" fill="#fbf5fa"/><ellipse cx="687.8" cy="463.4" rx="2.9" ry="3.1" fill="#fbf5fa"/><ellipse cx="683.7" cy="472.3" rx="5.3" ry="3.7" fill="#fbf5fa"/><ellipse cx="682.5" cy="481.3" rx="5.9" ry="4.8" fill="#fbf5fa"/><ellipse cx="684.2" cy="492.5" rx="4.0" ry="3.2" fill="#fbf5fa"/><ellipse cx="680.5" cy="500.5" rx="2.4" ry="3.4" fill="#fbf5fa"/><ellipse cx="687.0" cy="499.3" rx="2.4" ry="2.8" fill="#fbf5fa"/><ellipse cx="680.7" cy="508.9" rx="2.3" ry="3.8" fill="#fbf5fa"/><ellipse cx="687.1" cy="508.1" rx="2.3" ry="3.9" fill="#fbf5fa"/><ellipse cx="684.0" cy="518.0" rx="3.6" ry="3.8" fill="#fbf5fa"/><ellipse cx="685.1" cy="527.1" rx="3.9" ry="3.4" fill="#fbf5fa"/><ellipse cx="685.9" cy="535.4" rx="3.8" ry="3.3" fill="#fbf5fa"/><ellipse cx="682.3" cy="543.5" rx="2.4" ry="3.1" fill="#fbf5fa"/><ellipse cx="688.8" cy="543.8" rx="2.4" ry="3.4" fill="#fbf5fa"/><ellipse cx="682.7" cy="551.4" rx="2.5" ry="3.7" fill="#fbf5fa"/><ellipse cx="689.4" cy="551.5" rx="2.5" ry="3.3" fill="#fbf5fa"/><ellipse cx="718.9" cy="417.5" rx="0.9" ry="1.6" fill="#6a3a98" opacity="0.8"/><ellipse cx="722.7" cy="477.6" rx="0.9" ry="1.6" fill="#6a3a98" opacity="0.8"/><ellipse cx="621.3" cy="387.3" rx="0.9" ry="1.6" fill="#6a3a98" opacity="0.8"/><ellipse cx="615.3" cy="472.5" rx="0.9" ry="1.6" fill="#6a3a98" opacity="0.8"/><ellipse cx="722.0" cy="499.7" rx="0.9" ry="1.6" fill="#6a3a98" opacity="0.8"/><ellipse cx="625.9" cy="444.4" rx="0.9" ry="1.6" fill="#6a3a98" opacity="0.8"/><ellipse cx="615.0" cy="545.9" rx="0.9" ry="1.6" fill="#6a3a98" opacity="0.8"/><ellipse cx="703.9" cy="420.8" rx="0.9" ry="1.6" fill="#6a3a98" opacity="0.8"/><ellipse cx="714.9" cy="497.9" rx="0.9" ry="1.6" fill="#6a3a98" opacity="0.8"/><ellipse cx="603.6" cy="508.9" rx="0.9" ry="1.6" fill="#6a3a98" opacity="0.8"/><ellipse cx="617.7" cy="428.4" rx="0.9" ry="1.6" fill="#6a3a98" opacity="0.8"/><ellipse cx="675.1" cy="413.2" rx="0.9" ry="1.6" fill="#6a3a98" opacity="0.8"/><ellipse cx="722.0" cy="476.4" rx="0.9" ry="1.6" fill="#6a3a98" opacity="0.8"/><ellipse cx="656.4" cy="444.0" rx="0.9" ry="1.6" fill="#6a3a98" opacity="0.8"/><ellipse cx="708.0" cy="417.6" rx="0.9" ry="1.6" fill="#6a3a98" opacity="0.8"/><ellipse cx="701.3" cy="434.3" rx="0.9" ry="1.6" fill="#6a3a98" opacity="0.8"/><ellipse cx="717.2" cy="515.5" rx="0.9" ry="1.6" fill="#6a3a98" opacity="0.8"/><ellipse cx="700.9" cy="452.9" rx="0.9" ry="1.6" fill="#6a3a98" opacity="0.8"/><ellipse cx="697.8" cy="451.4" rx="0.9" ry="1.6" fill="#6a3a98" opacity="0.8"/><ellipse cx="718.9" cy="510.3" rx="0.9" ry="1.6" fill="#6a3a98" opacity="0.8"/><ellipse cx="704.6" cy="484.8" rx="0.9" ry="1.6" fill="#6a3a98" opacity="0.8"/><ellipse cx="720.4" cy="492.7" rx="0.9" ry="1.6" fill="#6a3a98" opacity="0.8"/><ellipse cx="727.3" cy="407.4" rx="0.9" ry="1.6" fill="#6a3a98" opacity="0.8"/><ellipse cx="713.1" cy="422.0" rx="0.9" ry="1.6" fill="#6a3a98" opacity="0.8"/><ellipse cx="726.8" cy="358.2" rx="0.9" ry="1.6" fill="#6a3a98" opacity="0.8"/><ellipse cx="723.0" cy="409.1" rx="0.9" ry="1.6" fill="#6a3a98" opacity="0.8"/><ellipse cx="704.0" cy="481.6" rx="0.9" ry="1.6" fill="#6a3a98" opacity="0.8"/><ellipse cx="633.9" cy="480.9" rx="0.9" ry="1.6" fill="#6a3a98" opacity="0.8"/><ellipse cx="673.0" cy="519.5" rx="0.9" ry="1.6" fill="#6a3a98" opacity="0.8"/><ellipse cx="717.9" cy="541.6" rx="0.9" ry="1.6" fill="#6a3a98" opacity="0.8"/><ellipse cx="737.5" cy="388.2" rx="0.9" ry="1.6" fill="#6a3a98" opacity="0.8"/><ellipse cx="610.7" cy="448.6" rx="0.9" ry="1.6" fill="#6a3a98" opacity="0.8"/><ellipse cx="714.4" cy="497.7" rx="0.9" ry="1.6" fill="#6a3a98" opacity="0.8"/><ellipse cx="635.9" cy="537.6" rx="0.9" ry="1.6" fill="#6a3a98" opacity="0.8"/><ellipse cx="715.0" cy="463.3" rx="0.9" ry="1.6" fill="#6a3a98" opacity="0.8"/><ellipse cx="735.7" cy="361.4" rx="0.9" ry="1.6" fill="#6a3a98" opacity="0.8"/><ellipse cx="700.3" cy="477.1" rx="0.9" ry="1.6" fill="#6a3a98" opacity="0.8"/><ellipse cx="609.3" cy="489.1" rx="0.9" ry="1.6" fill="#6a3a98" opacity="0.8"/><ellipse cx="698.2" cy="546.1" rx="0.9" ry="1.6" fill="#6a3a98" opacity="0.8"/><ellipse cx="742.6" cy="381.9" rx="0.9" ry="1.6" fill="#6a3a98" opacity="0.8"/><ellipse cx="607.5" cy="449.6" rx="0.9" ry="1.6" fill="#6a3a98" opacity="0.8"/><ellipse cx="615.9" cy="424.1" rx="0.9" ry="1.6" fill="#6a3a98" opacity="0.8"/><ellipse cx="704.6" cy="402.1" rx="0.9" ry="1.6" fill="#6a3a98" opacity="0.8"/><ellipse cx="717.7" cy="434.6" rx="0.9" ry="1.6" fill="#6a3a98" opacity="0.8"/><ellipse cx="731.6" cy="524.1" rx="0.9" ry="1.6" fill="#6a3a98" opacity="0.8"/><ellipse cx="697.8" cy="462.7" rx="0.9" ry="1.6" fill="#6a3a98" opacity="0.8"/><ellipse cx="721.5" cy="461.8" rx="0.9" ry="1.6" fill="#6a3a98" opacity="0.8"/><ellipse cx="721.4" cy="412.9" rx="0.9" ry="1.6" fill="#6a3a98" opacity="0.8"/><ellipse cx="708.8" cy="437.3" rx="0.9" ry="1.6" fill="#6a3a98" opacity="0.8"/><ellipse cx="663.0" cy="386.4" rx="0.9" ry="1.6" fill="#6a3a98" opacity="0.8"/><ellipse cx="721.3" cy="541.7" rx="0.9" ry="1.6" fill="#6a3a98" opacity="0.8"/><ellipse cx="613.3" cy="424.1" rx="0.9" ry="1.6" fill="#6a3a98" opacity="0.8"/><ellipse cx="708.2" cy="419.3" rx="0.9" ry="1.6" fill="#6a3a98" opacity="0.8"/><ellipse cx="641.9" cy="526.0" rx="0.9" ry="1.6" fill="#6a3a98" opacity="0.8"/><ellipse cx="636.1" cy="545.5" rx="0.9" ry="1.6" fill="#6a3a98" opacity="0.8"/><ellipse cx="641.2" cy="544.7" rx="0.9" ry="1.6" fill="#6a3a98" opacity="0.8"/><ellipse cx="717.0" cy="521.9" rx="0.9" ry="1.6" fill="#6a3a98" opacity="0.8"/><ellipse cx="716.2" cy="406.4" rx="0.9" ry="1.6" fill="#6a3a98" opacity="0.8"/><ellipse cx="719.5" cy="436.6" rx="0.9" ry="1.6" fill="#6a3a98" opacity="0.8"/><ellipse cx="705.2" cy="415.7" rx="0.9" ry="1.6" fill="#6a3a98" opacity="0.8"/><ellipse cx="656.8" cy="360.6" rx="0.9" ry="1.6" fill="#6a3a98" opacity="0.8"/><ellipse cx="744.1" cy="363.8" rx="0.9" ry="1.6" fill="#6a3a98" opacity="0.8"/><ellipse cx="723.6" cy="358.6" rx="0.9" ry="1.6" fill="#6a3a98" opacity="0.8"/><ellipse cx="606.2" cy="448.0" rx="0.9" ry="1.6" fill="#6a3a98" opacity="0.8"/><ellipse cx="721.2" cy="407.9" rx="0.9" ry="1.6" fill="#6a3a98" opacity="0.8"/><ellipse cx="659.2" cy="411.4" rx="0.9" ry="1.6" fill="#6a3a98" opacity="0.8"/><ellipse cx="604.0" cy="448.1" rx="0.9" ry="1.6" fill="#6a3a98" opacity="0.8"/><ellipse cx="728.0" cy="380.5" rx="0.9" ry="1.6" fill="#6a3a98" opacity="0.8"/><ellipse cx="716.3" cy="421.2" rx="0.9" ry="1.6" fill="#6a3a98" opacity="0.8"/><ellipse cx="727.3" cy="361.2" rx="0.9" ry="1.6" fill="#6a3a98" opacity="0.8"/><path d="M799.5 540.2H847.5" stroke="#222" stroke-width="1"/><text x="823.5" y="538.2" font-size="4.6" font-weight="bold" text-anchor="middle" fill="#222">100 μm</text></g>
<g clip-path="url(#cD)"><rect x="558" y="560" width="297" height="201" fill="#a963a7"/><g filter="url(#b2)"><path d="M640.0 560.0C643.3 570.0 651.7 598.3 660.0 620.0C668.3 641.7 683.3 666.3 690.0 690.0C696.7 713.7 698.3 750.0 700.0 762.0" fill="none" stroke="#a45aa4" stroke-width="40" opacity="0.8"/><path d="M590.0 560.0C591.7 566.7 594.2 586.7 600.0 600.0C605.8 613.3 616.7 623.3 625.0 640.0C633.3 656.7 642.8 679.7 650.0 700.0C657.2 720.3 665.0 751.7 668.0 762.0" fill="none" stroke="#d566a6" stroke-width="19" opacity="0.85"/><path d="M690.0 560.0C692.5 568.3 699.7 593.3 705.0 610.0C710.3 626.7 717.8 645.0 722.0 660.0C726.2 675.0 730.0 683.0 730.0 700.0C730.0 717.0 723.3 751.7 722.0 762.0" fill="none" stroke="#cf70ae" stroke-width="14" opacity="0.8"/><path d="M668.0 600.0C671.7 608.3 682.7 633.3 690.0 650.0C697.3 666.7 704.5 684.2 712.0 700.0C719.5 715.8 731.2 737.5 735.0 745.0" fill="none" stroke="#dc78b4" stroke-width="7" opacity="0.8"/></g><path d="M550.0 552.0C551.5 552.2 557.2 550.7 559.0 553.0C560.8 555.3 559.8 561.8 560.5 566.0C561.2 570.2 562.0 572.3 563.0 578.0C564.0 583.7 565.3 593.0 566.5 600.0C567.7 607.0 567.9 612.5 570.0 620.0C572.1 627.5 576.8 637.5 579.0 645.0C581.2 652.5 581.7 658.3 583.5 665.0C585.3 671.7 588.1 679.2 590.0 685.0C591.9 690.8 593.0 694.2 595.0 700.0C597.0 705.8 600.7 713.3 602.2 720.0C603.7 726.7 603.6 731.3 604.0 740.0C604.4 748.7 613.6 766.7 604.6 772.0C595.6 777.3 559.1 772.0 550.0 772.0Z" fill="#e4e4e4" filter="url(#b1)"/><path d="M558.0 552.0C558.2 553.3 558.3 556.2 559.0 560.0C559.7 563.8 560.8 568.3 562.0 575.0C563.2 581.7 565.2 592.5 566.5 600.0C567.8 607.5 567.9 612.5 570.0 620.0C572.1 627.5 576.8 637.5 579.0 645.0C581.2 652.5 581.7 658.3 583.5 665.0C585.3 671.7 588.1 679.2 590.0 685.0C591.9 690.8 593.0 694.2 595.0 700.0C597.0 705.8 600.7 713.3 602.2 720.0C603.7 726.7 603.6 733.0 604.0 740.0C604.4 747.0 604.5 758.3 604.6 762.0L651.0 762.0C649.9 758.3 646.4 746.7 644.6 740.0C642.8 733.3 641.6 728.7 640.0 722.0C638.4 715.3 636.3 708.3 635.0 700.0C633.7 691.7 633.0 678.7 632.0 672.0C631.0 665.3 630.7 664.5 629.0 660.0C627.3 655.5 625.2 650.0 622.0 645.0C618.8 640.0 614.0 634.5 610.0 630.0C606.0 625.5 601.4 623.0 598.0 618.0C594.6 613.0 591.7 607.2 589.4 600.0C587.1 592.8 585.2 581.7 584.0 575.0C582.8 568.3 582.5 563.8 582.0 560.0C581.5 556.2 581.2 553.3 581.0 552.0Z" fill="#8438a0" filter="url(#b1)"/><path d="M571.0 560.0C571.8 565.0 572.8 578.3 576.0 590.0C579.2 601.7 586.0 617.5 590.0 630.0C594.0 642.5 596.3 653.3 600.0 665.0C603.7 676.7 608.3 687.5 612.0 700.0C615.7 712.5 619.3 729.7 622.0 740.0C624.7 750.3 627.0 758.3 628.0 762.0" fill="none" stroke="#9650ac" stroke-width="7" opacity="0.6" filter="url(#b2)"/><path d="M801.0 552.0C801.8 553.3 803.4 556.2 805.6 560.0C807.8 563.8 811.3 570.0 814.0 575.0C816.7 580.0 819.3 584.8 821.6 590.0C823.9 595.2 826.1 601.0 828.0 606.0C829.9 611.0 831.1 615.0 832.8 620.0C834.5 625.0 836.7 631.0 838.0 636.0C839.3 641.0 840.3 645.7 840.8 650.0C841.3 654.3 841.3 658.3 841.0 662.0C840.7 665.7 840.1 667.3 839.0 672.0C837.9 676.7 835.9 684.3 834.4 690.0C832.9 695.7 831.6 701.0 830.0 706.0C828.4 711.0 826.5 715.3 824.8 720.0C823.1 724.7 821.3 729.8 820.0 734.0C818.7 738.2 817.6 740.3 816.8 745.0C816.0 749.7 815.3 757.5 815.0 762.0C814.7 766.5 815.0 770.3 815.0 772.0L866 772L866 550L800 550Z" fill="#e4e4e4" filter="url(#b1)"/><path d="M735.0 560.0C736.5 562.5 740.3 570.0 744.0 575.0C747.7 580.0 752.3 584.8 757.0 590.0C761.7 595.2 767.3 601.0 772.0 606.0C776.7 611.0 782.0 615.0 785.0 620.0C788.0 625.0 789.0 631.0 790.0 636.0C791.0 641.0 790.8 645.7 791.0 650.0C791.2 654.3 791.5 657.8 791.0 662.0C790.5 666.2 789.6 670.3 788.0 675.0C786.4 679.7 783.9 684.8 781.6 690.0C779.3 695.2 776.4 701.0 774.0 706.0C771.6 711.0 769.5 715.3 767.0 720.0C764.5 724.7 761.2 729.8 759.0 734.0C756.8 738.2 756.2 740.3 754.0 745.0C751.8 749.7 747.3 759.2 746.0 762.0L772.0 762.0C772.5 759.2 774.0 749.7 775.0 745.0C776.0 740.3 776.7 738.2 778.0 734.0C779.3 729.8 781.0 724.7 783.0 720.0C785.0 715.3 787.6 711.0 790.0 706.0C792.4 701.0 794.6 695.7 797.6 690.0C800.6 684.3 805.9 676.7 808.0 672.0C810.1 667.3 810.2 665.7 810.5 662.0C810.8 658.3 810.4 654.3 810.0 650.0C809.6 645.7 809.3 641.0 808.0 636.0C806.7 631.0 805.0 625.0 802.0 620.0C799.0 615.0 794.3 611.0 790.0 606.0C785.7 601.0 780.3 595.2 776.0 590.0C771.7 584.8 767.8 580.0 764.0 575.0C760.2 570.0 754.8 562.5 753.0 560.0Z" fill="#efe6ee" filter="url(#b1)"/><path d="M737.5 560.0C739.0 562.5 742.8 570.0 746.5 575.0C750.2 580.0 754.8 584.8 759.5 590.0C764.2 595.2 769.8 601.0 774.5 606.0C779.2 611.0 784.5 615.0 787.5 620.0C790.5 625.0 791.5 631.0 792.5 636.0C793.5 641.0 793.3 645.7 793.5 650.0C793.7 654.3 794.0 657.8 793.5 662.0C793.0 666.2 792.1 670.3 790.5 675.0C788.9 679.7 786.4 684.8 784.1 690.0C781.8 695.2 778.9 701.0 776.5 706.0C774.1 711.0 772.0 715.3 769.5 720.0C767.0 724.7 763.7 729.8 761.5 734.0C759.3 738.2 758.7 740.3 756.5 745.0C754.3 749.7 749.8 759.2 748.5 762.0" fill="none" stroke="#d676b4" stroke-width="5" filter="url(#b1)"/><path d="M753.0 560.0C754.8 562.5 760.2 570.0 764.0 575.0C767.8 580.0 771.7 584.8 776.0 590.0C780.3 595.2 785.7 601.0 790.0 606.0C794.3 611.0 799.0 615.0 802.0 620.0C805.0 625.0 806.7 631.0 808.0 636.0C809.3 641.0 809.6 645.7 810.0 650.0C810.4 654.3 810.8 658.3 810.5 662.0C810.2 665.7 810.1 667.3 808.0 672.0C805.9 676.7 800.6 684.3 797.6 690.0C794.6 695.7 792.4 701.0 790.0 706.0C787.6 711.0 785.0 715.3 783.0 720.0C781.0 724.7 779.3 729.8 778.0 734.0C776.7 738.2 776.0 740.3 775.0 745.0C774.0 749.7 772.5 759.2 772.0 762.0L796.0 762.0C796.3 759.2 796.8 749.7 797.6 745.0C798.4 740.3 799.7 738.2 801.0 734.0C802.3 729.8 804.1 724.7 805.6 720.0C807.1 715.3 808.4 711.0 810.0 706.0C811.6 701.0 813.2 695.7 815.0 690.0C816.8 684.3 819.8 676.7 821.0 672.0C822.2 667.3 822.1 665.7 822.5 662.0C822.9 658.3 823.5 654.3 823.2 650.0C823.0 645.7 822.1 641.0 821.0 636.0C819.9 631.0 818.3 625.0 816.8 620.0C815.3 615.0 813.9 611.0 812.0 606.0C810.1 601.0 807.9 595.2 805.6 590.0C803.3 584.8 800.7 580.0 798.0 575.0C795.3 570.0 791.0 562.5 789.6 560.0Z" fill="#d96cae" filter="url(#b1)"/><path d="M789.6 560.0C791.0 562.5 795.3 570.0 798.0 575.0C800.7 580.0 803.3 584.8 805.6 590.0C807.9 595.2 810.1 601.0 812.0 606.0C813.9 611.0 815.3 615.0 816.8 620.0C818.3 625.0 819.9 631.0 821.0 636.0C822.1 641.0 823.0 645.7 823.2 650.0C823.5 654.3 822.9 658.3 822.5 662.0C822.1 665.7 822.2 667.3 821.0 672.0C819.8 676.7 816.8 684.3 815.0 690.0C813.2 695.7 811.6 701.0 810.0 706.0C808.4 711.0 807.1 715.3 805.6 720.0C804.1 724.7 802.3 729.8 801.0 734.0C799.7 738.2 798.4 740.3 797.6 745.0C796.8 749.7 796.3 759.2 796.0 762.0L815.0 772.0C815.0 770.3 814.7 766.5 815.0 762.0C815.3 757.5 816.0 749.7 816.8 745.0C817.6 740.3 818.7 738.2 820.0 734.0C821.3 729.8 823.1 724.7 824.8 720.0C826.5 715.3 828.4 711.0 830.0 706.0C831.6 701.0 832.9 695.7 834.4 690.0C835.9 684.3 837.9 676.7 839.0 672.0C840.1 667.3 840.7 665.7 841.0 662.0C841.3 658.3 841.3 654.3 840.8 650.0C840.3 645.7 839.3 641.0 838.0 636.0C836.7 631.0 834.5 625.0 832.8 620.0C831.1 615.0 829.9 611.0 828.0 606.0C826.1 601.0 823.9 595.2 821.6 590.0C819.3 584.8 816.7 580.0 814.0 575.0C811.3 570.0 807.8 563.8 805.6 560.0C803.4 556.2 801.8 553.3 801.0 552.0Z" fill="#8440a2" filter="url(#b1)"/><path d="M796.0 552.0C796.8 553.3 798.4 556.2 800.6 560.0C802.8 563.8 806.3 570.0 809.0 575.0C811.7 580.0 814.3 584.8 816.6 590.0C818.9 595.2 821.1 601.0 823.0 606.0C824.9 611.0 826.1 615.0 827.8 620.0C829.5 625.0 831.7 631.0 833.0 636.0C834.3 641.0 835.3 645.7 835.8 650.0C836.3 654.3 836.3 658.3 836.0 662.0C835.7 665.7 835.1 667.3 834.0 672.0C832.9 676.7 830.9 684.3 829.4 690.0C827.9 695.7 826.6 701.0 825.0 706.0C823.4 711.0 821.5 715.3 819.8 720.0C818.1 724.7 816.3 729.8 815.0 734.0C813.7 738.2 812.6 740.3 811.8 745.0C811.0 749.7 810.3 757.5 810.0 762.0C809.7 766.5 810.0 770.3 810.0 772.0" fill="none" stroke="#7436a0" stroke-width="4" opacity="0.6" filter="url(#b2)"/><path d="M852.0 690.0C850.3 694.3 845.3 707.3 842.0 716.0C838.7 724.7 834.3 734.3 832.0 742.0C829.7 749.7 828.7 758.7 828.0 762.0" fill="none" stroke="#e58cc0" stroke-width="1.6" opacity="0.9"/><path d="M848.0 700.0C846.3 704.3 841.7 716.7 838.0 726.0C834.3 735.3 828.0 751.0 826.0 756.0" fill="none" stroke="#eab0d2" stroke-width="1.2" opacity="0.8"/><path d="M716.0 560.0C717.3 562.5 720.8 570.0 724.0 575.0C727.2 580.0 731.0 584.8 735.0 590.0C739.0 595.2 743.7 601.0 748.0 606.0C752.3 611.0 757.5 615.0 761.0 620.0C764.5 625.0 767.2 631.0 769.0 636.0C770.8 641.0 771.3 645.7 772.0 650.0C772.7 654.3 773.3 657.8 773.0 662.0C772.7 666.2 771.5 670.3 770.0 675.0C768.5 679.7 766.0 684.8 764.0 690.0C762.0 695.2 760.2 701.0 758.0 706.0C755.8 711.0 753.0 715.3 751.0 720.0C749.0 724.7 747.3 729.8 746.0 734.0C744.7 738.2 744.5 740.3 743.0 745.0C741.5 749.7 738.0 759.2 737.0 762.0L746.0 762.0C747.3 759.2 751.8 749.7 754.0 745.0C756.2 740.3 756.8 738.2 759.0 734.0C761.2 729.8 764.5 724.7 767.0 720.0C769.5 715.3 771.6 711.0 774.0 706.0C776.4 701.0 779.3 695.2 781.6 690.0C783.9 684.8 786.4 679.7 788.0 675.0C789.6 670.3 790.5 666.2 791.0 662.0C791.5 657.8 791.2 654.3 791.0 650.0C790.8 645.7 791.0 641.0 790.0 636.0C789.0 631.0 788.0 625.0 785.0 620.0C782.0 615.0 776.7 611.0 772.0 606.0C767.3 601.0 761.7 595.2 757.0 590.0C752.3 584.8 747.7 580.0 744.0 575.0C740.3 570.0 736.5 562.5 735.0 560.0Z" fill="#d87cb8"/><circle cx="727.8" cy="563.3" r="4.6" fill="#fbf6fa"/><circle cx="734.9" cy="564.6" r="1.7" fill="#fbf6fa"/><circle cx="733.3" cy="573.3" r="4.8" fill="#fbf6fa"/><circle cx="741.1" cy="573.6" r="2.2" fill="#fbf6fa"/><circle cx="740.7" cy="582.5" r="4.5" fill="#fbf6fa"/><circle cx="748.3" cy="582.2" r="2.3" fill="#fbf6fa"/><circle cx="745.0" cy="590.7" r="4.8" fill="#fbf6fa"/><circle cx="752.8" cy="591.7" r="2.2" fill="#fbf6fa"/><circle cx="753.9" cy="599.5" r="4.5" fill="#fbf6fa"/><circle cx="746.4" cy="598.4" r="2.2" fill="#fbf6fa"/><circle cx="761.6" cy="607.4" r="4.2" fill="#fbf6fa"/><circle cx="768.3" cy="607.7" r="1.7" fill="#fbf6fa"/><circle cx="766.0" cy="615.1" r="4.7" fill="#fbf6fa"/><circle cx="758.2" cy="615.6" r="2.2" fill="#fbf6fa"/><circle cx="776.0" cy="624.4" r="3.4" fill="#fbf6fa"/><circle cx="779.1" cy="632.4" r="5.0" fill="#fbf6fa"/><circle cx="787.1" cy="632.9" r="2.2" fill="#fbf6fa"/><circle cx="781.7" cy="644.4" r="4.9" fill="#fbf6fa"/><circle cx="774.3" cy="643.3" r="1.7" fill="#fbf6fa"/><circle cx="781.4" cy="656.5" r="4.3" fill="#fbf6fa"/><circle cx="788.5" cy="655.3" r="2.0" fill="#fbf6fa"/><circle cx="779.1" cy="666.6" r="3.8" fill="#fbf6fa"/><circle cx="772.5" cy="667.8" r="2.0" fill="#fbf6fa"/><circle cx="778.3" cy="675.9" r="3.4" fill="#fbf6fa"/><circle cx="784.6" cy="677.2" r="2.0" fill="#fbf6fa"/><circle cx="773.5" cy="683.8" r="3.7" fill="#fbf6fa"/><circle cx="772.2" cy="692.7" r="3.3" fill="#fbf6fa"/><circle cx="765.8" cy="693.0" r="2.3" fill="#fbf6fa"/><circle cx="768.5" cy="700.7" r="3.3" fill="#fbf6fa"/><circle cx="762.2" cy="699.6" r="2.2" fill="#fbf6fa"/><circle cx="764.2" cy="708.6" r="3.2" fill="#fbf6fa"/><circle cx="761.6" cy="716.5" r="3.1" fill="#fbf6fa"/><circle cx="758.0" cy="723.5" r="2.8" fill="#fbf6fa"/><circle cx="752.8" cy="722.7" r="1.5" fill="#fbf6fa"/><circle cx="754.1" cy="730.5" r="3.5" fill="#fbf6fa"/><circle cx="749.5" cy="738.6" r="3.0" fill="#fbf6fa"/><circle cx="747.2" cy="745.9" r="2.0" fill="#fbf6fa"/><circle cx="745.2" cy="751.3" r="2.4" fill="#fbf6fa"/><circle cx="743.7" cy="757.5" r="2.5" fill="#fbf6fa"/><ellipse cx="613" cy="592" rx="9" ry="10" fill="#d98cc0" stroke="#8e4aa6" stroke-width="2" filter="url(#b1)"/><ellipse cx="638" cy="672" rx="11" ry="14" fill="#dba8cc" stroke="#b06ab0" stroke-width="1.5" filter="url(#b1)"/><path d="M640.0 562.0C641.7 566.7 645.3 580.3 650.0 590.0C654.7 599.7 663.0 610.0 668.0 620.0C673.0 630.0 676.3 638.3 680.0 650.0C683.7 661.7 686.7 676.7 690.0 690.0C693.3 703.3 697.7 718.3 700.0 730.0C702.3 741.7 703.3 755.0 704.0 760.0" fill="none" stroke="#f2e8f0" stroke-width="1.6" opacity="0.85"/><path d="M700.0 690.0C703.3 694.2 713.3 707.5 720.0 715.0C726.7 722.5 734.7 727.5 740.0 735.0C745.3 742.5 750.0 755.8 752.0 760.0" fill="none" stroke="#f2e8f0" stroke-width="2" opacity="0.8"/><path d="M581.0 552.0 L582.0 560.0 L584.0 575.0 L589.4 600.0 L598.0 618.0 L610.0 630.0 L622.0 645.0 L629.0 660.0 L632.0 672.0 L635.0 700.0 L640.0 722.0 L644.6 740.0 L651.0 762.0 L760.0 762.0 L737.0 762.0 L743.0 745.0 L746.0 734.0 L751.0 720.0 L758.0 706.0 L764.0 690.0 L770.0 675.0 L773.0 662.0 L772.0 650.0 L769.0 636.0 L761.0 620.0 L748.0 606.0 L735.0 590.0 L724.0 575.0 L716.0 560.0Z" fill="#fff" filter="url(#cells)" opacity="0.9"/><path d="M753.0 560.0C754.8 562.5 760.2 570.0 764.0 575.0C767.8 580.0 771.7 584.8 776.0 590.0C780.3 595.2 785.7 601.0 790.0 606.0C794.3 611.0 799.0 615.0 802.0 620.0C805.0 625.0 806.7 631.0 808.0 636.0C809.3 641.0 809.6 645.7 810.0 650.0C810.4 654.3 810.8 658.3 810.5 662.0C810.2 665.7 810.1 667.3 808.0 672.0C805.9 676.7 800.6 684.3 797.6 690.0C794.6 695.7 792.4 701.0 790.0 706.0C787.6 711.0 785.0 715.3 783.0 720.0C781.0 724.7 779.3 729.8 778.0 734.0C776.7 738.2 776.0 740.3 775.0 745.0C774.0 749.7 772.5 759.2 772.0 762.0L796.0 762.0C796.3 759.2 796.8 749.7 797.6 745.0C798.4 740.3 799.7 738.2 801.0 734.0C802.3 729.8 804.1 724.7 805.6 720.0C807.1 715.3 808.4 711.0 810.0 706.0C811.6 701.0 813.2 695.7 815.0 690.0C816.8 684.3 819.8 676.7 821.0 672.0C822.2 667.3 822.1 665.7 822.5 662.0C822.9 658.3 823.5 654.3 823.2 650.0C823.0 645.7 822.1 641.0 821.0 636.0C819.9 631.0 818.3 625.0 816.8 620.0C815.3 615.0 813.9 611.0 812.0 606.0C810.1 601.0 807.9 595.2 805.6 590.0C803.3 584.8 800.7 580.0 798.0 575.0C795.3 570.0 791.0 562.5 789.6 560.0Z" fill="#fff" filter="url(#cells2)" opacity="0.4"/><path d="M759.0 560.0C760.8 562.5 766.2 570.0 770.0 575.0C773.8 580.0 777.7 584.8 782.0 590.0C786.3 595.2 791.7 601.0 796.0 606.0C800.3 611.0 805.0 615.0 808.0 620.0C811.0 625.0 812.7 631.0 814.0 636.0C815.3 641.0 815.6 645.7 816.0 650.0C816.4 654.3 816.8 658.3 816.5 662.0C816.2 665.7 816.1 667.3 814.0 672.0C811.9 676.7 806.6 684.3 803.6 690.0C800.6 695.7 798.4 701.0 796.0 706.0C793.6 711.0 791.0 715.3 789.0 720.0C787.0 724.7 785.3 729.8 784.0 734.0C782.7 738.2 782.0 740.3 781.0 745.0C780.0 749.7 778.5 759.2 778.0 762.0" fill="none" stroke="#efa6d0" stroke-width="2.5" opacity="0.6" filter="url(#b1)"/><path d="M558.0 552.0C558.2 553.3 558.3 556.2 559.0 560.0C559.7 563.8 560.8 568.3 562.0 575.0C563.2 581.7 565.2 592.5 566.5 600.0C567.8 607.5 567.9 612.5 570.0 620.0C572.1 627.5 576.8 637.5 579.0 645.0C581.2 652.5 581.7 658.3 583.5 665.0C585.3 671.7 588.1 679.2 590.0 685.0C591.9 690.8 593.0 694.2 595.0 700.0C597.0 705.8 600.7 713.3 602.2 720.0C603.7 726.7 603.6 733.0 604.0 740.0C604.4 747.0 604.5 758.3 604.6 762.0L651.0 762.0C649.9 758.3 646.4 746.7 644.6 740.0C642.8 733.3 641.6 728.7 640.0 722.0C638.4 715.3 636.3 708.3 635.0 700.0C633.7 691.7 633.0 678.7 632.0 672.0C631.0 665.3 630.7 664.5 629.0 660.0C627.3 655.5 625.2 650.0 622.0 645.0C618.8 640.0 614.0 634.5 610.0 630.0C606.0 625.5 601.4 623.0 598.0 618.0C594.6 613.0 591.7 607.2 589.4 600.0C587.1 592.8 585.2 581.7 584.0 575.0C582.8 568.3 582.5 563.8 582.0 560.0C581.5 556.2 581.2 553.3 581.0 552.0Z" fill="#fff" filter="url(#cells2)" opacity="0.5"/><g filter="url(#b1)"><ellipse cx="693" cy="568" rx="7" ry="6" fill="#f1e9f0"/><ellipse cx="709" cy="579" rx="7" ry="6.5" fill="#f1e9f0"/><ellipse cx="723" cy="590" rx="9" ry="8" fill="#f1e9f0"/><ellipse cx="718.4" cy="604.4" rx="8" ry="7.5" fill="#f1e9f0"/><ellipse cx="729.6" cy="614" rx="8" ry="7" fill="#f1e9f0"/><ellipse cx="729.6" cy="634.8" rx="7" ry="13" fill="#f1e9f0"/><ellipse cx="755" cy="625" rx="8" ry="8" fill="#f1e9f0"/><ellipse cx="742.4" cy="617" rx="6" ry="6" fill="#f1e9f0"/><ellipse cx="720" cy="647.6" rx="7" ry="7" fill="#f1e9f0"/><ellipse cx="744" cy="647.6" rx="6.5" ry="7" fill="#f1e9f0"/><ellipse cx="741" cy="664" rx="7" ry="8" fill="#f1e9f0"/><ellipse cx="730" cy="681" rx="6" ry="9" fill="#f1e9f0"/><ellipse cx="752" cy="690" rx="6" ry="7" fill="#f1e9f0"/><ellipse cx="707" cy="594" rx="5" ry="5.5" fill="#f1e9f0"/><ellipse cx="740" cy="600" rx="5.5" ry="5.5" fill="#f1e9f0"/></g><g fill="#4f3490" opacity="0.85"><circle cx="700" cy="574" r="1.3"/><circle cx="716" cy="584" r="1.3"/><circle cx="714" cy="597" r="1.3"/><circle cx="731" cy="601" r="1.3"/><circle cx="724" cy="609" r="1.3"/><circle cx="738" cy="609" r="1.3"/><circle cx="722" cy="623" r="1.3"/><circle cx="737" cy="625" r="1.3"/><circle cx="746" cy="634" r="1.3"/><circle cx="737" cy="645" r="1.3"/><circle cx="728" cy="655" r="1.3"/><circle cx="748" cy="657" r="1.3"/><circle cx="735" cy="672" r="1.3"/><circle cx="724" cy="667" r="1.3"/><circle cx="741" cy="680" r="1.3"/><circle cx="746" cy="612" r="1.3"/><circle cx="712" cy="610" r="1.3"/><circle cx="702" cy="585" r="1.3"/></g><ellipse cx="756" cy="655" rx="11" ry="13" fill="#5a3a94" opacity="0.8" filter="url(#b2)"/><ellipse cx="762" cy="672" rx="7" ry="8" fill="#5a3a94" opacity="0.6" filter="url(#b2)"/><path d="M799 747H847" stroke="#222" stroke-width="1"/><text x="823.5" y="745" font-size="4.6" font-weight="bold" text-anchor="middle" fill="#222">100 μm</text></g>
</svg>
</body></html>
